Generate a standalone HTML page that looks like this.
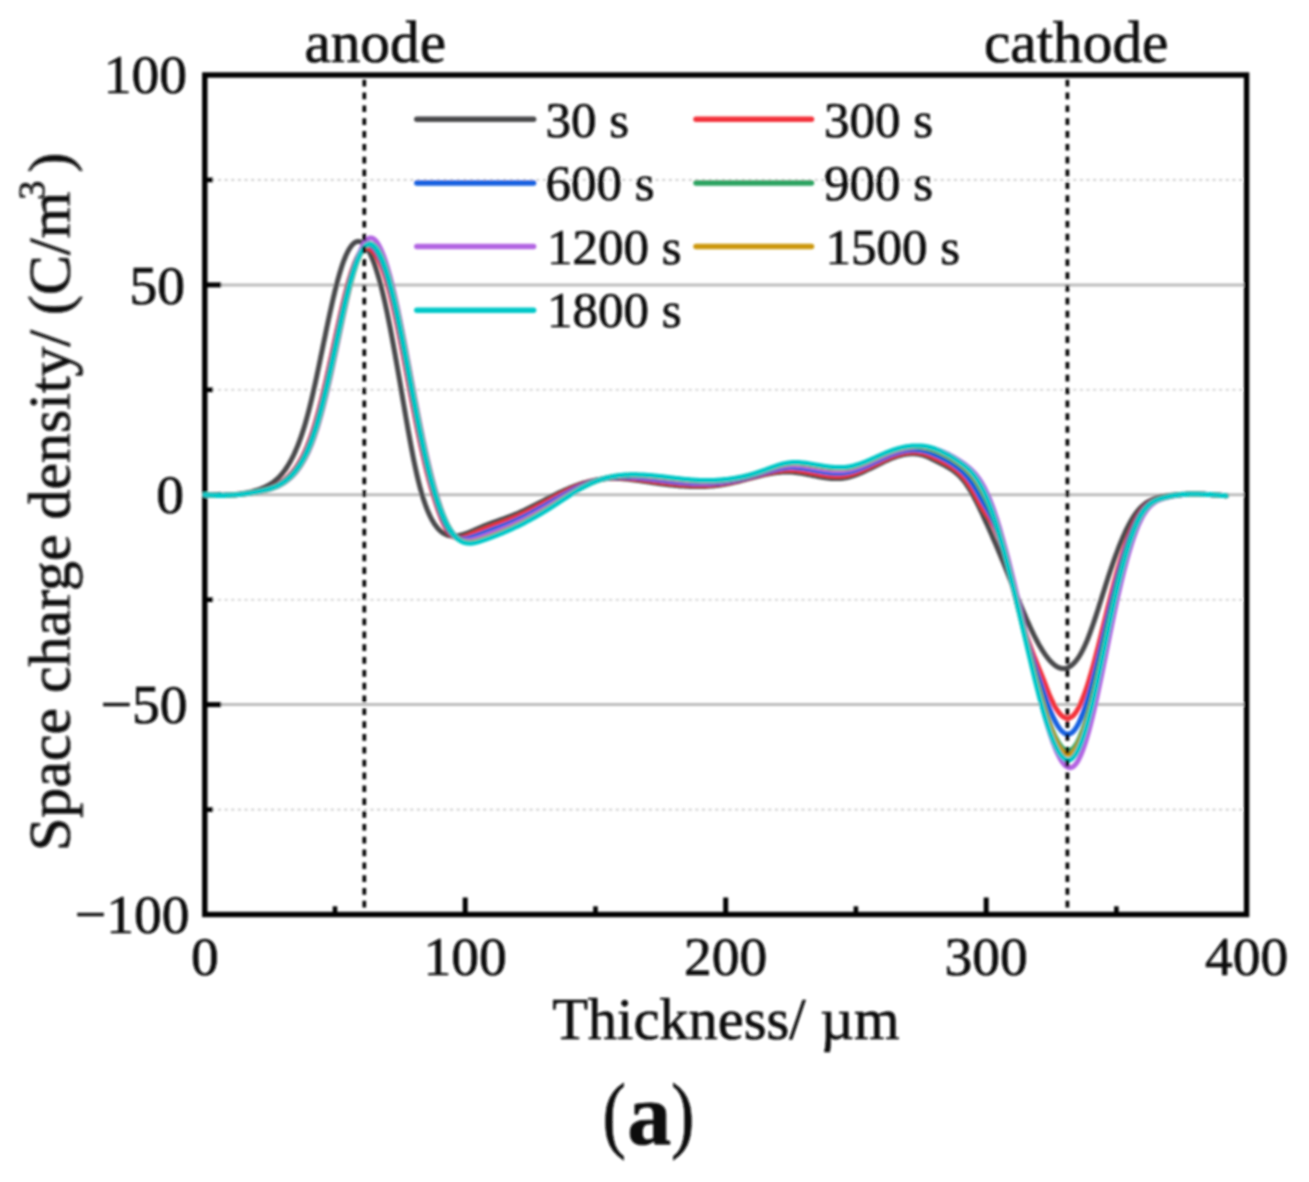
<!DOCTYPE html>
<html><head><meta charset="utf-8"><title>Space charge density</title>
<style>
html,body{margin:0;padding:0;background:#fff;}
body{width:1309px;height:1182px;overflow:hidden;}
svg{display:block;}
.t{font-family:"Liberation Serif",serif;fill:#0c0c0c;stroke:#0c0c0c;stroke-width:0.7px;}
</style></head><body>
<svg width="1309" height="1182" viewBox="0 0 1309 1182">
<rect width="1309" height="1182" fill="#fff"/>
<defs><filter id="soft" x="0" y="0" width="1309" height="1182" filterUnits="userSpaceOnUse"><feGaussianBlur stdDeviation="0.8"/></filter></defs>
<g filter="url(#soft)">
<line x1="204.8" y1="284.9" x2="1246.6" y2="284.9" stroke="#bcbcbc" stroke-width="3.0"/>
<line x1="204.8" y1="494.8" x2="1246.6" y2="494.8" stroke="#bcbcbc" stroke-width="3.0"/>
<line x1="204.8" y1="704.6" x2="1246.6" y2="704.6" stroke="#bcbcbc" stroke-width="3.0"/>
<line x1="204.8" y1="179.9" x2="1246.6" y2="179.9" stroke="#c6c6c6" stroke-width="1.6" stroke-dasharray="2.9 3.73"/>
<line x1="204.8" y1="389.8" x2="1246.6" y2="389.8" stroke="#c6c6c6" stroke-width="1.6" stroke-dasharray="2.9 3.73"/>
<line x1="204.8" y1="599.7" x2="1246.6" y2="599.7" stroke="#c6c6c6" stroke-width="1.6" stroke-dasharray="2.9 3.73"/>
<line x1="204.8" y1="809.6" x2="1246.6" y2="809.6" stroke="#c6c6c6" stroke-width="1.6" stroke-dasharray="2.9 3.73"/>
<rect x="204.8" y="75.0" width="1041.8" height="839.5" fill="none" stroke="#000" stroke-width="5.4"/>
<line x1="204.8" y1="284.9" x2="221.2" y2="284.9" stroke="#000" stroke-width="5.0"/>
<line x1="204.8" y1="494.8" x2="221.2" y2="494.8" stroke="#000" stroke-width="5.0"/>
<line x1="204.8" y1="704.6" x2="221.2" y2="704.6" stroke="#000" stroke-width="5.0"/>
<line x1="204.8" y1="179.9" x2="213.0" y2="179.9" stroke="#000" stroke-width="4.6"/>
<line x1="204.8" y1="389.8" x2="213.0" y2="389.8" stroke="#000" stroke-width="4.6"/>
<line x1="204.8" y1="599.7" x2="213.0" y2="599.7" stroke="#000" stroke-width="4.6"/>
<line x1="204.8" y1="809.6" x2="213.0" y2="809.6" stroke="#000" stroke-width="4.6"/>
<line x1="465.2" y1="914.5" x2="465.2" y2="897.5" stroke="#000" stroke-width="5.0"/>
<line x1="725.7" y1="914.5" x2="725.7" y2="897.5" stroke="#000" stroke-width="5.0"/>
<line x1="986.2" y1="914.5" x2="986.2" y2="897.5" stroke="#000" stroke-width="5.0"/>
<line x1="335.0" y1="914.5" x2="335.0" y2="906.3" stroke="#000" stroke-width="4.6"/>
<line x1="595.5" y1="914.5" x2="595.5" y2="906.3" stroke="#000" stroke-width="4.6"/>
<line x1="855.9" y1="914.5" x2="855.9" y2="906.3" stroke="#000" stroke-width="4.6"/>
<line x1="1116.4" y1="914.5" x2="1116.4" y2="906.3" stroke="#000" stroke-width="4.6"/>
<path d="M205.0,494.7 L206.0,494.7 L207.0,494.8 L208.0,494.8 L209.0,494.9 L210.0,494.9 L211.0,494.9 L212.0,495.0 L213.0,495.0 L214.0,495.0 L215.0,495.1 L216.0,495.1 L217.0,495.1 L218.0,495.1 L219.0,495.1 L220.0,495.1 L221.0,495.1 L222.0,495.1 L223.0,495.1 L224.0,495.1 L225.0,495.1 L226.0,495.1 L227.0,495.0 L228.0,495.0 L229.0,494.9 L230.0,494.9 L231.0,494.8 L232.0,494.8 L233.0,494.7 L234.0,494.6 L235.0,494.5 L236.0,494.4 L237.0,494.3 L238.0,494.2 L239.0,494.1 L240.0,494.0 L241.0,493.8 L242.0,493.7 L243.0,493.5 L244.0,493.3 L245.0,493.2 L246.0,493.0 L247.0,492.8 L248.0,492.6 L249.0,492.3 L250.0,492.1 L251.0,491.9 L252.0,491.6 L253.0,491.3 L254.0,491.0 L255.0,490.7 L256.0,490.4 L257.0,490.1 L258.0,489.8 L259.0,489.4 L260.0,489.1 L261.0,488.7 L262.0,488.3 L263.0,487.9 L264.0,487.4 L265.0,487.0 L266.0,486.5 L267.0,486.0 L268.0,485.5 L269.0,484.9 L270.0,484.3 L271.0,483.7 L272.0,483.1 L273.0,482.4 L274.0,481.6 L275.0,480.8 L276.0,480.0 L277.0,479.1 L278.0,478.2 L279.0,477.2 L280.0,476.1 L281.0,475.0 L282.0,473.8 L283.0,472.6 L284.0,471.3 L285.0,470.0 L286.0,468.5 L287.0,467.0 L288.0,465.4 L289.0,463.8 L290.0,462.0 L291.0,460.2 L292.0,458.3 L293.0,456.3 L294.0,454.3 L295.0,452.1 L296.0,449.8 L297.0,447.4 L298.0,445.0 L299.0,442.4 L300.0,439.7 L301.0,436.9 L302.0,433.9 L303.0,430.9 L304.0,427.7 L305.0,424.4 L306.0,421.0 L307.0,417.4 L308.0,413.7 L309.0,409.9 L310.0,405.9 L311.0,401.8 L312.0,397.6 L313.0,393.2 L314.0,388.8 L315.0,384.3 L316.0,379.7 L317.0,375.0 L318.0,370.3 L319.0,365.5 L320.0,360.7 L321.0,355.8 L322.0,351.0 L323.0,346.1 L324.0,341.2 L325.0,336.4 L326.0,331.6 L327.0,326.8 L328.0,322.0 L329.0,317.3 L330.0,312.7 L331.0,308.2 L332.0,303.7 L333.0,299.3 L334.0,295.1 L335.0,290.9 L336.0,286.9 L337.0,283.0 L338.0,279.2 L339.0,275.6 L340.0,272.2 L341.0,268.9 L342.0,265.8 L343.0,262.9 L344.0,260.2 L345.0,257.7 L346.0,255.3 L347.0,253.2 L348.0,251.2 L349.0,249.4 L350.0,247.8 L351.0,246.3 L352.0,245.1 L353.0,244.0 L354.0,243.1 L355.0,242.4 L356.0,241.9 L357.0,241.5 L358.0,241.4 L359.0,241.4 L360.0,241.6 L361.0,242.0 L362.0,242.5 L363.0,243.3 L364.0,244.2 L365.0,245.3 L366.0,246.6 L367.0,248.0 L368.0,249.6 L369.0,251.4 L370.0,253.4 L371.0,255.5 L372.0,257.8 L373.0,260.3 L374.0,262.9 L375.0,265.7 L376.0,268.7 L377.0,271.9 L378.0,275.2 L379.0,278.6 L380.0,282.3 L381.0,286.1 L382.0,290.0 L383.0,294.1 L384.0,298.4 L385.0,302.8 L386.0,307.4 L387.0,312.1 L388.0,317.0 L389.0,322.0 L390.0,327.1 L391.0,332.3 L392.0,337.6 L393.0,343.0 L394.0,348.5 L395.0,354.0 L396.0,359.7 L397.0,365.4 L398.0,371.1 L399.0,376.9 L400.0,382.7 L401.0,388.5 L402.0,394.4 L403.0,400.3 L404.0,406.1 L405.0,412.0 L406.0,417.8 L407.0,423.5 L408.0,429.2 L409.0,434.8 L410.0,440.3 L411.0,445.7 L412.0,451.0 L413.0,456.2 L414.0,461.2 L415.0,466.0 L416.0,470.6 L417.0,475.1 L418.0,479.4 L419.0,483.4 L420.0,487.3 L421.0,490.9 L422.0,494.4 L423.0,497.7 L424.0,500.8 L425.0,503.7 L426.0,506.5 L427.0,509.1 L428.0,511.5 L429.0,513.8 L430.0,516.0 L431.0,518.0 L432.0,519.9 L433.0,521.6 L434.0,523.3 L435.0,524.8 L436.0,526.1 L437.0,527.4 L438.0,528.6 L439.0,529.7 L440.0,530.6 L441.0,531.5 L442.0,532.3 L443.0,533.0 L444.0,533.6 L445.0,534.1 L446.0,534.6 L447.0,535.0 L448.0,535.3 L449.0,535.5 L450.0,535.7 L451.0,535.9 L452.0,535.9 L453.0,536.0 L454.0,536.0 L455.0,535.9 L456.0,535.9 L457.0,535.8 L458.0,535.6 L459.0,535.4 L460.0,535.2 L461.0,535.0 L462.0,534.7 L463.0,534.5 L464.0,534.2 L465.0,533.8 L466.0,533.5 L467.0,533.1 L468.0,532.8 L469.0,532.4 L470.0,532.0 L471.0,531.6 L472.0,531.1 L473.0,530.7 L474.0,530.3 L475.0,529.8 L476.0,529.4 L477.0,528.9 L478.0,528.5 L479.0,528.0 L480.0,527.6 L481.0,527.2 L482.0,526.7 L483.0,526.3 L484.0,525.9 L485.0,525.5 L486.0,525.1 L487.0,524.7 L488.0,524.3 L489.0,524.0 L490.0,523.6 L491.0,523.2 L492.0,522.8 L493.0,522.5 L494.0,522.1 L495.0,521.8 L496.0,521.4 L497.0,521.1 L498.0,520.7 L499.0,520.4 L500.0,520.0 L501.0,519.7 L502.0,519.3 L503.0,519.0 L504.0,518.6 L505.0,518.3 L506.0,517.9 L507.0,517.5 L508.0,517.2 L509.0,516.8 L510.0,516.4 L511.0,516.0 L512.0,515.6 L513.0,515.2 L514.0,514.8 L515.0,514.4 L516.0,514.0 L517.0,513.6 L518.0,513.2 L519.0,512.7 L520.0,512.3 L521.0,511.8 L522.0,511.4 L523.0,510.9 L524.0,510.4 L525.0,510.0 L526.0,509.5 L527.0,509.0 L528.0,508.5 L529.0,508.0 L530.0,507.5 L531.0,507.0 L532.0,506.5 L533.0,506.0 L534.0,505.5 L535.0,505.0 L536.0,504.5 L537.0,504.0 L538.0,503.5 L539.0,502.9 L540.0,502.4 L541.0,501.9 L542.0,501.4 L543.0,500.9 L544.0,500.4 L545.0,499.8 L546.0,499.3 L547.0,498.8 L548.0,498.3 L549.0,497.8 L550.0,497.3 L551.0,496.8 L552.0,496.2 L553.0,495.7 L554.0,495.2 L555.0,494.7 L556.0,494.3 L557.0,493.8 L558.0,493.3 L559.0,492.8 L560.0,492.3 L561.0,491.9 L562.0,491.4 L563.0,490.9 L564.0,490.5 L565.0,490.0 L566.0,489.6 L567.0,489.2 L568.0,488.7 L569.0,488.3 L570.0,487.9 L571.0,487.5 L572.0,487.1 L573.0,486.7 L574.0,486.3 L575.0,485.9 L576.0,485.6 L577.0,485.2 L578.0,484.9 L579.0,484.5 L580.0,484.2 L581.0,483.9 L582.0,483.5 L583.0,483.2 L584.0,482.9 L585.0,482.6 L586.0,482.4 L587.0,482.1 L588.0,481.8 L589.0,481.6 L590.0,481.3 L591.0,481.1 L592.0,480.8 L593.0,480.6 L594.0,480.4 L595.0,480.2 L596.0,480.0 L597.0,479.8 L598.0,479.7 L599.0,479.5 L600.0,479.4 L601.0,479.2 L602.0,479.1 L603.0,479.0 L604.0,478.9 L605.0,478.8 L606.0,478.7 L607.0,478.6 L608.0,478.6 L609.0,478.5 L610.0,478.5 L611.0,478.4 L612.0,478.4 L613.0,478.4 L614.0,478.4 L615.0,478.4 L616.0,478.4 L617.0,478.5 L618.0,478.5 L619.0,478.5 L620.0,478.6 L621.0,478.6 L622.0,478.7 L623.0,478.8 L624.0,478.8 L625.0,478.9 L626.0,479.0 L627.0,479.1 L628.0,479.2 L629.0,479.3 L630.0,479.4 L631.0,479.5 L632.0,479.7 L633.0,479.8 L634.0,479.9 L635.0,480.0 L636.0,480.2 L637.0,480.3 L638.0,480.4 L639.0,480.6 L640.0,480.7 L641.0,480.9 L642.0,481.0 L643.0,481.2 L644.0,481.3 L645.0,481.5 L646.0,481.6 L647.0,481.8 L648.0,481.9 L649.0,482.1 L650.0,482.2 L651.0,482.4 L652.0,482.5 L653.0,482.7 L654.0,482.8 L655.0,483.0 L656.0,483.1 L657.0,483.3 L658.0,483.4 L659.0,483.5 L660.0,483.7 L661.0,483.8 L662.0,483.9 L663.0,484.1 L664.0,484.2 L665.0,484.3 L666.0,484.4 L667.0,484.6 L668.0,484.7 L669.0,484.8 L670.0,484.9 L671.0,485.0 L672.0,485.1 L673.0,485.2 L674.0,485.3 L675.0,485.4 L676.0,485.5 L677.0,485.6 L678.0,485.7 L679.0,485.8 L680.0,485.9 L681.0,485.9 L682.0,486.0 L683.0,486.1 L684.0,486.1 L685.0,486.2 L686.0,486.2 L687.0,486.3 L688.0,486.3 L689.0,486.4 L690.0,486.4 L691.0,486.5 L692.0,486.5 L693.0,486.5 L694.0,486.5 L695.0,486.5 L696.0,486.6 L697.0,486.6 L698.0,486.6 L699.0,486.6 L700.0,486.5 L701.0,486.5 L702.0,486.5 L703.0,486.5 L704.0,486.4 L705.0,486.4 L706.0,486.4 L707.0,486.3 L708.0,486.3 L709.0,486.2 L710.0,486.1 L711.0,486.0 L712.0,486.0 L713.0,485.9 L714.0,485.8 L715.0,485.7 L716.0,485.6 L717.0,485.5 L718.0,485.3 L719.0,485.2 L720.0,485.1 L721.0,484.9 L722.0,484.8 L723.0,484.6 L724.0,484.5 L725.0,484.3 L726.0,484.1 L727.0,483.9 L728.0,483.7 L729.0,483.5 L730.0,483.3 L731.0,483.1 L732.0,482.9 L733.0,482.7 L734.0,482.4 L735.0,482.2 L736.0,481.9 L737.0,481.7 L738.0,481.5 L739.0,481.2 L740.0,481.0 L741.0,480.7 L742.0,480.4 L743.0,480.2 L744.0,479.9 L745.0,479.7 L746.0,479.4 L747.0,479.1 L748.0,478.9 L749.0,478.6 L750.0,478.3 L751.0,478.1 L752.0,477.8 L753.0,477.5 L754.0,477.3 L755.0,477.0 L756.0,476.8 L757.0,476.5 L758.0,476.3 L759.0,476.0 L760.0,475.8 L761.0,475.5 L762.0,475.3 L763.0,475.1 L764.0,474.9 L765.0,474.6 L766.0,474.4 L767.0,474.2 L768.0,474.0 L769.0,473.8 L770.0,473.6 L771.0,473.5 L772.0,473.3 L773.0,473.1 L774.0,473.0 L775.0,472.8 L776.0,472.7 L777.0,472.6 L778.0,472.5 L779.0,472.4 L780.0,472.3 L781.0,472.2 L782.0,472.1 L783.0,472.1 L784.0,472.0 L785.0,472.0 L786.0,472.0 L787.0,472.0 L788.0,472.0 L789.0,472.0 L790.0,472.0 L791.0,472.1 L792.0,472.1 L793.0,472.2 L794.0,472.3 L795.0,472.4 L796.0,472.5 L797.0,472.7 L798.0,472.8 L799.0,472.9 L800.0,473.1 L801.0,473.2 L802.0,473.4 L803.0,473.6 L804.0,473.8 L805.0,473.9 L806.0,474.1 L807.0,474.3 L808.0,474.5 L809.0,474.7 L810.0,474.9 L811.0,475.1 L812.0,475.3 L813.0,475.5 L814.0,475.7 L815.0,475.9 L816.0,476.1 L817.0,476.3 L818.0,476.5 L819.0,476.7 L820.0,476.9 L821.0,477.0 L822.0,477.2 L823.0,477.4 L824.0,477.5 L825.0,477.7 L826.0,477.8 L827.0,477.9 L828.0,478.1 L829.0,478.2 L830.0,478.3 L831.0,478.4 L832.0,478.4 L833.0,478.5 L834.0,478.5 L835.0,478.6 L836.0,478.6 L837.0,478.6 L838.0,478.5 L839.0,478.5 L840.0,478.5 L841.0,478.4 L842.0,478.3 L843.0,478.2 L844.0,478.0 L845.0,477.9 L846.0,477.7 L847.0,477.5 L848.0,477.3 L849.0,477.0 L850.0,476.8 L851.0,476.5 L852.0,476.2 L853.0,475.9 L854.0,475.6 L855.0,475.2 L856.0,474.9 L857.0,474.5 L858.0,474.1 L859.0,473.7 L860.0,473.3 L861.0,472.9 L862.0,472.4 L863.0,472.0 L864.0,471.5 L865.0,471.1 L866.0,470.6 L867.0,470.1 L868.0,469.6 L869.0,469.1 L870.0,468.7 L871.0,468.2 L872.0,467.7 L873.0,467.2 L874.0,466.7 L875.0,466.2 L876.0,465.7 L877.0,465.2 L878.0,464.7 L879.0,464.2 L880.0,463.7 L881.0,463.2 L882.0,462.7 L883.0,462.2 L884.0,461.7 L885.0,461.3 L886.0,460.8 L887.0,460.4 L888.0,459.9 L889.0,459.5 L890.0,459.0 L891.0,458.6 L892.0,458.2 L893.0,457.8 L894.0,457.5 L895.0,457.1 L896.0,456.8 L897.0,456.4 L898.0,456.1 L899.0,455.8 L900.0,455.5 L901.0,455.3 L902.0,455.0 L903.0,454.8 L904.0,454.6 L905.0,454.4 L906.0,454.3 L907.0,454.1 L908.0,454.0 L909.0,453.9 L910.0,453.8 L911.0,453.8 L912.0,453.7 L913.0,453.7 L914.0,453.8 L915.0,453.8 L916.0,453.9 L917.0,454.0 L918.0,454.1 L919.0,454.3 L920.0,454.5 L921.0,454.7 L922.0,454.9 L923.0,455.2 L924.0,455.5 L925.0,455.9 L926.0,456.2 L927.0,456.6 L928.0,457.0 L929.0,457.5 L930.0,457.9 L931.0,458.4 L932.0,458.9 L933.0,459.4 L934.0,459.9 L935.0,460.4 L936.0,460.9 L937.0,461.4 L938.0,462.0 L939.0,462.5 L940.0,463.0 L941.0,463.5 L942.0,464.1 L943.0,464.6 L944.0,465.1 L945.0,465.6 L946.0,466.2 L947.0,466.7 L948.0,467.3 L949.0,467.9 L950.0,468.5 L951.0,469.1 L952.0,469.8 L953.0,470.5 L954.0,471.2 L955.0,472.0 L956.0,472.8 L957.0,473.7 L958.0,474.6 L959.0,475.5 L960.0,476.5 L961.0,477.6 L962.0,478.7 L963.0,479.9 L964.0,481.1 L965.0,482.4 L966.0,483.8 L967.0,485.3 L968.0,486.8 L969.0,488.4 L970.0,490.0 L971.0,491.7 L972.0,493.5 L973.0,495.3 L974.0,497.1 L975.0,499.0 L976.0,501.0 L977.0,503.0 L978.0,505.0 L979.0,507.0 L980.0,509.1 L981.0,511.2 L982.0,513.3 L983.0,515.5 L984.0,517.7 L985.0,519.9 L986.0,522.1 L987.0,524.3 L988.0,526.5 L989.0,528.8 L990.0,531.0 L991.0,533.3 L992.0,535.6 L993.0,537.9 L994.0,540.2 L995.0,542.5 L996.0,544.9 L997.0,547.2 L998.0,549.6 L999.0,552.0 L1000.0,554.4 L1001.0,556.8 L1002.0,559.2 L1003.0,561.6 L1004.0,564.1 L1005.0,566.5 L1006.0,569.0 L1007.0,571.5 L1008.0,574.0 L1009.0,576.5 L1010.0,579.0 L1011.0,581.5 L1012.0,584.0 L1013.0,586.5 L1014.0,589.0 L1015.0,591.5 L1016.0,593.9 L1017.0,596.4 L1018.0,598.9 L1019.0,601.3 L1020.0,603.7 L1021.0,606.1 L1022.0,608.5 L1023.0,610.9 L1024.0,613.3 L1025.0,615.6 L1026.0,617.9 L1027.0,620.2 L1028.0,622.4 L1029.0,624.6 L1030.0,626.8 L1031.0,629.0 L1032.0,631.1 L1033.0,633.1 L1034.0,635.2 L1035.0,637.2 L1036.0,639.1 L1037.0,641.0 L1038.0,642.9 L1039.0,644.7 L1040.0,646.4 L1041.0,648.1 L1042.0,649.8 L1043.0,651.3 L1044.0,652.9 L1045.0,654.4 L1046.0,655.8 L1047.0,657.1 L1048.0,658.4 L1049.0,659.6 L1050.0,660.7 L1051.0,661.8 L1052.0,662.8 L1053.0,663.7 L1054.0,664.6 L1055.0,665.4 L1056.0,666.1 L1057.0,666.7 L1058.0,667.2 L1059.0,667.7 L1060.0,668.0 L1061.0,668.3 L1062.0,668.5 L1063.0,668.5 L1064.0,668.5 L1065.0,668.4 L1066.0,668.2 L1067.0,667.9 L1068.0,667.5 L1069.0,667.0 L1070.0,666.5 L1071.0,665.8 L1072.0,665.0 L1073.0,664.1 L1074.0,663.1 L1075.0,662.0 L1076.0,660.8 L1077.0,659.5 L1078.0,658.1 L1079.0,656.6 L1080.0,655.0 L1081.0,653.3 L1082.0,651.4 L1083.0,649.5 L1084.0,647.4 L1085.0,645.3 L1086.0,643.0 L1087.0,640.7 L1088.0,638.2 L1089.0,635.6 L1090.0,633.0 L1091.0,630.2 L1092.0,627.4 L1093.0,624.5 L1094.0,621.6 L1095.0,618.6 L1096.0,615.6 L1097.0,612.5 L1098.0,609.4 L1099.0,606.2 L1100.0,603.1 L1101.0,599.9 L1102.0,596.7 L1103.0,593.5 L1104.0,590.4 L1105.0,587.2 L1106.0,584.0 L1107.0,580.9 L1108.0,577.8 L1109.0,574.8 L1110.0,571.8 L1111.0,568.8 L1112.0,565.9 L1113.0,563.0 L1114.0,560.2 L1115.0,557.4 L1116.0,554.7 L1117.0,552.0 L1118.0,549.3 L1119.0,546.8 L1120.0,544.2 L1121.0,541.8 L1122.0,539.4 L1123.0,537.0 L1124.0,534.8 L1125.0,532.6 L1126.0,530.4 L1127.0,528.3 L1128.0,526.3 L1129.0,524.4 L1130.0,522.6 L1131.0,520.8 L1132.0,519.1 L1133.0,517.4 L1134.0,515.9 L1135.0,514.4 L1136.0,513.1 L1137.0,511.8 L1138.0,510.5 L1139.0,509.4 L1140.0,508.3 L1141.0,507.3 L1142.0,506.3 L1143.0,505.4 L1144.0,504.6 L1145.0,503.8 L1146.0,503.1 L1147.0,502.4 L1148.0,501.8 L1149.0,501.2 L1150.0,500.7 L1151.0,500.2 L1152.0,499.7 L1153.0,499.3 L1154.0,498.9 L1155.0,498.6 L1156.0,498.2 L1157.0,497.9 L1158.0,497.7 L1159.0,497.4 L1160.0,497.2 L1161.0,497.0 L1162.0,496.8 L1163.0,496.6 L1164.0,496.4 L1165.0,496.2 L1166.0,496.0 L1167.0,495.9 L1168.0,495.7 L1169.0,495.6 L1170.0,495.4 L1171.0,495.3 L1172.0,495.2 L1173.0,495.0 L1174.0,494.9 L1175.0,494.8 L1176.0,494.7 L1177.0,494.6 L1178.0,494.6 L1179.0,494.5 L1180.0,494.4 L1181.0,494.4 L1182.0,494.3 L1183.0,494.2 L1184.0,494.2 L1185.0,494.2 L1186.0,494.1 L1187.0,494.1 L1188.0,494.1 L1189.0,494.1 L1190.0,494.0 L1191.0,494.0 L1192.0,494.0 L1193.0,494.0 L1194.0,494.0 L1195.0,494.0 L1196.0,494.1 L1197.0,494.1 L1198.0,494.1 L1199.0,494.1 L1200.0,494.2 L1201.0,494.2 L1202.0,494.2 L1203.0,494.3 L1204.0,494.3 L1205.0,494.4 L1206.0,494.4 L1207.0,494.5 L1208.0,494.5 L1209.0,494.6 L1210.0,494.6 L1211.0,494.7 L1212.0,494.8 L1213.0,494.8 L1214.0,494.9 L1215.0,495.0 L1216.0,495.0 L1217.0,495.1 L1218.0,495.2 L1219.0,495.2 L1220.0,495.3 L1221.0,495.4 L1222.0,495.5 L1223.0,495.5 L1224.0,495.6 L1225.0,495.7 L1226.0,495.8 L1226.3,495.8" fill="none" stroke="#48484b" stroke-width="5.0" stroke-linejoin="round" stroke-linecap="round"/>
<path d="M205.0,494.9 L206.0,495.0 L207.0,495.1 L208.0,495.1 L209.0,495.2 L210.0,495.2 L211.0,495.3 L212.0,495.3 L213.0,495.3 L214.0,495.4 L215.0,495.4 L216.0,495.4 L217.0,495.4 L218.0,495.4 L219.0,495.4 L220.0,495.4 L221.0,495.4 L222.0,495.4 L223.0,495.4 L224.0,495.3 L225.0,495.3 L226.0,495.3 L227.0,495.2 L228.0,495.2 L229.0,495.1 L230.0,495.0 L231.0,495.0 L232.0,494.9 L233.0,494.8 L234.0,494.7 L235.0,494.6 L236.0,494.5 L237.0,494.4 L238.0,494.3 L239.0,494.2 L240.0,494.1 L241.0,494.0 L242.0,493.9 L243.0,493.7 L244.0,493.6 L245.0,493.5 L246.0,493.3 L247.0,493.2 L248.0,493.0 L249.0,492.8 L250.0,492.7 L251.0,492.5 L252.0,492.3 L253.0,492.1 L254.0,492.0 L255.0,491.8 L256.0,491.6 L257.0,491.4 L258.0,491.2 L259.0,490.9 L260.0,490.7 L261.0,490.5 L262.0,490.3 L263.0,490.0 L264.0,489.8 L265.0,489.5 L266.0,489.2 L267.0,488.9 L268.0,488.6 L269.0,488.3 L270.0,488.0 L271.0,487.6 L272.0,487.2 L273.0,486.8 L274.0,486.3 L275.0,485.9 L276.0,485.4 L277.0,484.9 L278.0,484.3 L279.0,483.7 L280.0,483.1 L281.0,482.5 L282.0,481.8 L283.0,481.0 L284.0,480.3 L285.0,479.5 L286.0,478.6 L287.0,477.7 L288.0,476.8 L289.0,475.8 L290.0,474.8 L291.0,473.7 L292.0,472.6 L293.0,471.4 L294.0,470.1 L295.0,468.8 L296.0,467.4 L297.0,466.0 L298.0,464.4 L299.0,462.8 L300.0,461.1 L301.0,459.3 L302.0,457.5 L303.0,455.5 L304.0,453.4 L305.0,451.3 L306.0,449.0 L307.0,446.7 L308.0,444.2 L309.0,441.6 L310.0,439.0 L311.0,436.1 L312.0,433.2 L313.0,430.2 L314.0,427.0 L315.0,423.7 L316.0,420.3 L317.0,416.7 L318.0,413.1 L319.0,409.3 L320.0,405.5 L321.0,401.5 L322.0,397.5 L323.0,393.3 L324.0,389.1 L325.0,384.8 L326.0,380.5 L327.0,376.1 L328.0,371.6 L329.0,367.0 L330.0,362.4 L331.0,357.8 L332.0,353.2 L333.0,348.5 L334.0,343.8 L335.0,339.2 L336.0,334.5 L337.0,329.9 L338.0,325.3 L339.0,320.7 L340.0,316.2 L341.0,311.8 L342.0,307.4 L343.0,303.2 L344.0,299.0 L345.0,294.9 L346.0,291.0 L347.0,287.2 L348.0,283.5 L349.0,280.0 L350.0,276.7 L351.0,273.4 L352.0,270.4 L353.0,267.5 L354.0,264.8 L355.0,262.3 L356.0,260.0 L357.0,257.8 L358.0,255.9 L359.0,254.1 L360.0,252.6 L361.0,251.2 L362.0,250.1 L363.0,249.2 L364.0,248.5 L365.0,248.0 L366.0,247.7 L367.0,247.6 L368.0,247.7 L369.0,248.0 L370.0,248.4 L371.0,249.1 L372.0,249.9 L373.0,250.9 L374.0,252.1 L375.0,253.4 L376.0,255.0 L377.0,256.7 L378.0,258.5 L379.0,260.6 L380.0,262.8 L381.0,265.1 L382.0,267.7 L383.0,270.4 L384.0,273.2 L385.0,276.2 L386.0,279.4 L387.0,282.7 L388.0,286.2 L389.0,289.9 L390.0,293.7 L391.0,297.7 L392.0,301.8 L393.0,306.0 L394.0,310.4 L395.0,314.9 L396.0,319.5 L397.0,324.3 L398.0,329.1 L399.0,334.0 L400.0,339.0 L401.0,344.1 L402.0,349.2 L403.0,354.4 L404.0,359.6 L405.0,364.9 L406.0,370.1 L407.0,375.4 L408.0,380.7 L409.0,386.0 L410.0,391.3 L411.0,396.6 L412.0,401.8 L413.0,407.0 L414.0,412.1 L415.0,417.2 L416.0,422.3 L417.0,427.3 L418.0,432.2 L419.0,437.0 L420.0,441.8 L421.0,446.4 L422.0,451.0 L423.0,455.5 L424.0,459.8 L425.0,464.1 L426.0,468.2 L427.0,472.3 L428.0,476.2 L429.0,480.0 L430.0,483.7 L431.0,487.3 L432.0,490.7 L433.0,494.1 L434.0,497.4 L435.0,500.6 L436.0,503.7 L437.0,506.8 L438.0,509.7 L439.0,512.5 L440.0,515.2 L441.0,517.8 L442.0,520.2 L443.0,522.5 L444.0,524.6 L445.0,526.5 L446.0,528.3 L447.0,529.9 L448.0,531.4 L449.0,532.7 L450.0,533.8 L451.0,534.8 L452.0,535.7 L453.0,536.4 L454.0,537.0 L455.0,537.4 L456.0,537.8 L457.0,538.0 L458.0,538.1 L459.0,538.2 L460.0,538.1 L461.0,538.0 L462.0,537.8 L463.0,537.6 L464.0,537.3 L465.0,537.0 L466.0,536.6 L467.0,536.2 L468.0,535.8 L469.0,535.4 L470.0,535.0 L471.0,534.5 L472.0,534.1 L473.0,533.7 L474.0,533.3 L475.0,532.9 L476.0,532.5 L477.0,532.1 L478.0,531.7 L479.0,531.3 L480.0,530.9 L481.0,530.5 L482.0,530.1 L483.0,529.7 L484.0,529.3 L485.0,528.9 L486.0,528.5 L487.0,528.1 L488.0,527.7 L489.0,527.4 L490.0,527.0 L491.0,526.6 L492.0,526.3 L493.0,525.9 L494.0,525.5 L495.0,525.2 L496.0,524.8 L497.0,524.4 L498.0,524.1 L499.0,523.7 L500.0,523.3 L501.0,523.0 L502.0,522.6 L503.0,522.2 L504.0,521.9 L505.0,521.5 L506.0,521.1 L507.0,520.7 L508.0,520.4 L509.0,520.0 L510.0,519.6 L511.0,519.2 L512.0,518.8 L513.0,518.4 L514.0,517.9 L515.0,517.5 L516.0,517.1 L517.0,516.7 L518.0,516.2 L519.0,515.8 L520.0,515.3 L521.0,514.8 L522.0,514.4 L523.0,513.9 L524.0,513.4 L525.0,512.9 L526.0,512.5 L527.0,512.0 L528.0,511.5 L529.0,511.0 L530.0,510.5 L531.0,509.9 L532.0,509.4 L533.0,508.9 L534.0,508.4 L535.0,507.9 L536.0,507.4 L537.0,506.8 L538.0,506.3 L539.0,505.8 L540.0,505.2 L541.0,504.7 L542.0,504.2 L543.0,503.6 L544.0,503.1 L545.0,502.5 L546.0,502.0 L547.0,501.5 L548.0,500.9 L549.0,500.4 L550.0,499.8 L551.0,499.3 L552.0,498.8 L553.0,498.2 L554.0,497.7 L555.0,497.2 L556.0,496.6 L557.0,496.1 L558.0,495.6 L559.0,495.0 L560.0,494.5 L561.0,494.0 L562.0,493.5 L563.0,493.0 L564.0,492.5 L565.0,492.0 L566.0,491.5 L567.0,491.0 L568.0,490.5 L569.0,490.1 L570.0,489.6 L571.0,489.1 L572.0,488.7 L573.0,488.2 L574.0,487.8 L575.0,487.4 L576.0,486.9 L577.0,486.5 L578.0,486.1 L579.0,485.7 L580.0,485.3 L581.0,484.9 L582.0,484.6 L583.0,484.2 L584.0,483.8 L585.0,483.5 L586.0,483.1 L587.0,482.8 L588.0,482.5 L589.0,482.2 L590.0,481.9 L591.0,481.6 L592.0,481.3 L593.0,481.0 L594.0,480.8 L595.0,480.5 L596.0,480.3 L597.0,480.1 L598.0,479.9 L599.0,479.7 L600.0,479.5 L601.0,479.3 L602.0,479.1 L603.0,479.0 L604.0,478.8 L605.0,478.7 L606.0,478.5 L607.0,478.4 L608.0,478.3 L609.0,478.2 L610.0,478.1 L611.0,478.1 L612.0,478.0 L613.0,478.0 L614.0,477.9 L615.0,477.9 L616.0,477.9 L617.0,477.8 L618.0,477.8 L619.0,477.8 L620.0,477.8 L621.0,477.9 L622.0,477.9 L623.0,477.9 L624.0,478.0 L625.0,478.0 L626.0,478.1 L627.0,478.1 L628.0,478.2 L629.0,478.3 L630.0,478.3 L631.0,478.4 L632.0,478.5 L633.0,478.6 L634.0,478.7 L635.0,478.8 L636.0,478.9 L637.0,479.0 L638.0,479.1 L639.0,479.2 L640.0,479.3 L641.0,479.5 L642.0,479.6 L643.0,479.7 L644.0,479.8 L645.0,480.0 L646.0,480.1 L647.0,480.2 L648.0,480.4 L649.0,480.5 L650.0,480.6 L651.0,480.8 L652.0,480.9 L653.0,481.0 L654.0,481.2 L655.0,481.3 L656.0,481.4 L657.0,481.6 L658.0,481.7 L659.0,481.8 L660.0,482.0 L661.0,482.1 L662.0,482.2 L663.0,482.3 L664.0,482.5 L665.0,482.6 L666.0,482.7 L667.0,482.8 L668.0,482.9 L669.0,483.1 L670.0,483.2 L671.0,483.3 L672.0,483.4 L673.0,483.5 L674.0,483.6 L675.0,483.7 L676.0,483.8 L677.0,483.9 L678.0,484.0 L679.0,484.1 L680.0,484.2 L681.0,484.3 L682.0,484.3 L683.0,484.4 L684.0,484.5 L685.0,484.6 L686.0,484.6 L687.0,484.7 L688.0,484.7 L689.0,484.8 L690.0,484.8 L691.0,484.9 L692.0,484.9 L693.0,485.0 L694.0,485.0 L695.0,485.0 L696.0,485.0 L697.0,485.1 L698.0,485.1 L699.0,485.1 L700.0,485.1 L701.0,485.1 L702.0,485.1 L703.0,485.0 L704.0,485.0 L705.0,485.0 L706.0,485.0 L707.0,484.9 L708.0,484.9 L709.0,484.8 L710.0,484.8 L711.0,484.7 L712.0,484.6 L713.0,484.6 L714.0,484.5 L715.0,484.4 L716.0,484.3 L717.0,484.2 L718.0,484.1 L719.0,484.0 L720.0,483.9 L721.0,483.7 L722.0,483.6 L723.0,483.5 L724.0,483.3 L725.0,483.2 L726.0,483.0 L727.0,482.8 L728.0,482.7 L729.0,482.5 L730.0,482.3 L731.0,482.1 L732.0,481.9 L733.0,481.7 L734.0,481.5 L735.0,481.2 L736.0,481.0 L737.0,480.8 L738.0,480.6 L739.0,480.3 L740.0,480.1 L741.0,479.8 L742.0,479.6 L743.0,479.3 L744.0,479.1 L745.0,478.8 L746.0,478.6 L747.0,478.3 L748.0,478.0 L749.0,477.8 L750.0,477.5 L751.0,477.2 L752.0,477.0 L753.0,476.7 L754.0,476.4 L755.0,476.2 L756.0,475.9 L757.0,475.6 L758.0,475.4 L759.0,475.1 L760.0,474.8 L761.0,474.6 L762.0,474.3 L763.0,474.0 L764.0,473.8 L765.0,473.5 L766.0,473.3 L767.0,473.0 L768.0,472.8 L769.0,472.6 L770.0,472.3 L771.0,472.1 L772.0,471.9 L773.0,471.7 L774.0,471.5 L775.0,471.3 L776.0,471.1 L777.0,470.9 L778.0,470.8 L779.0,470.6 L780.0,470.5 L781.0,470.4 L782.0,470.2 L783.0,470.1 L784.0,470.0 L785.0,470.0 L786.0,469.9 L787.0,469.9 L788.0,469.8 L789.0,469.8 L790.0,469.8 L791.0,469.8 L792.0,469.9 L793.0,469.9 L794.0,470.0 L795.0,470.0 L796.0,470.1 L797.0,470.2 L798.0,470.3 L799.0,470.5 L800.0,470.6 L801.0,470.7 L802.0,470.9 L803.0,471.0 L804.0,471.2 L805.0,471.4 L806.0,471.5 L807.0,471.7 L808.0,471.9 L809.0,472.1 L810.0,472.3 L811.0,472.5 L812.0,472.7 L813.0,472.9 L814.0,473.1 L815.0,473.2 L816.0,473.4 L817.0,473.6 L818.0,473.8 L819.0,474.0 L820.0,474.2 L821.0,474.3 L822.0,474.5 L823.0,474.7 L824.0,474.8 L825.0,475.0 L826.0,475.1 L827.0,475.2 L828.0,475.4 L829.0,475.5 L830.0,475.6 L831.0,475.7 L832.0,475.7 L833.0,475.8 L834.0,475.9 L835.0,475.9 L836.0,475.9 L837.0,475.9 L838.0,475.9 L839.0,475.9 L840.0,475.9 L841.0,475.8 L842.0,475.7 L843.0,475.6 L844.0,475.5 L845.0,475.4 L846.0,475.2 L847.0,475.0 L848.0,474.8 L849.0,474.6 L850.0,474.4 L851.0,474.1 L852.0,473.8 L853.0,473.5 L854.0,473.2 L855.0,472.9 L856.0,472.5 L857.0,472.2 L858.0,471.8 L859.0,471.4 L860.0,471.0 L861.0,470.6 L862.0,470.2 L863.0,469.8 L864.0,469.3 L865.0,468.9 L866.0,468.4 L867.0,468.0 L868.0,467.5 L869.0,467.0 L870.0,466.6 L871.0,466.1 L872.0,465.6 L873.0,465.1 L874.0,464.6 L875.0,464.1 L876.0,463.7 L877.0,463.2 L878.0,462.7 L879.0,462.2 L880.0,461.7 L881.0,461.2 L882.0,460.8 L883.0,460.3 L884.0,459.8 L885.0,459.4 L886.0,458.9 L887.0,458.5 L888.0,458.0 L889.0,457.6 L890.0,457.2 L891.0,456.8 L892.0,456.4 L893.0,456.0 L894.0,455.7 L895.0,455.3 L896.0,455.0 L897.0,454.6 L898.0,454.3 L899.0,454.0 L900.0,453.8 L901.0,453.5 L902.0,453.3 L903.0,453.0 L904.0,452.8 L905.0,452.6 L906.0,452.5 L907.0,452.3 L908.0,452.2 L909.0,452.1 L910.0,452.0 L911.0,451.9 L912.0,451.9 L913.0,451.9 L914.0,451.9 L915.0,451.9 L916.0,452.0 L917.0,452.0 L918.0,452.1 L919.0,452.3 L920.0,452.4 L921.0,452.6 L922.0,452.8 L923.0,453.1 L924.0,453.3 L925.0,453.6 L926.0,453.9 L927.0,454.3 L928.0,454.6 L929.0,455.0 L930.0,455.4 L931.0,455.8 L932.0,456.3 L933.0,456.7 L934.0,457.2 L935.0,457.7 L936.0,458.2 L937.0,458.6 L938.0,459.1 L939.0,459.6 L940.0,460.1 L941.0,460.6 L942.0,461.1 L943.0,461.7 L944.0,462.2 L945.0,462.7 L946.0,463.2 L947.0,463.8 L948.0,464.3 L949.0,464.9 L950.0,465.5 L951.0,466.2 L952.0,466.8 L953.0,467.5 L954.0,468.2 L955.0,468.9 L956.0,469.7 L957.0,470.5 L958.0,471.4 L959.0,472.2 L960.0,473.2 L961.0,474.1 L962.0,475.2 L963.0,476.3 L964.0,477.4 L965.0,478.6 L966.0,479.8 L967.0,481.2 L968.0,482.5 L969.0,484.0 L970.0,485.5 L971.0,487.1 L972.0,488.7 L973.0,490.4 L974.0,492.1 L975.0,493.9 L976.0,495.8 L977.0,497.7 L978.0,499.6 L979.0,501.5 L980.0,503.4 L981.0,505.2 L982.0,506.9 L983.0,508.6 L984.0,510.2 L985.0,511.7 L986.0,513.3 L987.0,514.8 L988.0,516.3 L989.0,517.8 L990.0,519.4 L991.0,521.0 L992.0,522.7 L993.0,524.5 L994.0,526.4 L995.0,528.4 L996.0,530.6 L997.0,532.9 L998.0,535.3 L999.0,537.9 L1000.0,540.6 L1001.0,543.5 L1002.0,546.6 L1003.0,549.8 L1004.0,553.2 L1005.0,556.7 L1006.0,560.4 L1007.0,564.2 L1008.0,568.1 L1009.0,572.1 L1010.0,576.1 L1011.0,580.1 L1012.0,584.1 L1013.0,588.1 L1014.0,592.0 L1015.0,595.9 L1016.0,599.7 L1017.0,603.5 L1018.0,607.2 L1019.0,610.8 L1020.0,614.4 L1021.0,617.9 L1022.0,621.3 L1023.0,624.6 L1024.0,627.8 L1025.0,631.0 L1026.0,634.1 L1027.0,637.1 L1028.0,640.1 L1029.0,642.9 L1030.0,645.7 L1031.0,648.5 L1032.0,651.1 L1033.0,653.7 L1034.0,656.3 L1035.0,658.8 L1036.0,661.3 L1037.0,663.7 L1038.0,666.2 L1039.0,668.6 L1040.0,671.0 L1041.0,673.4 L1042.0,675.9 L1043.0,678.4 L1044.0,680.9 L1045.0,683.5 L1046.0,686.2 L1047.0,688.8 L1048.0,691.4 L1049.0,693.9 L1050.0,696.2 L1051.0,698.5 L1052.0,700.7 L1053.0,702.7 L1054.0,704.7 L1055.0,706.5 L1056.0,708.3 L1057.0,709.9 L1058.0,711.3 L1059.0,712.7 L1060.0,713.9 L1061.0,715.0 L1062.0,715.9 L1063.0,716.7 L1064.0,717.3 L1065.0,717.8 L1066.0,718.2 L1067.0,718.3 L1068.0,718.3 L1069.0,718.2 L1070.0,717.8 L1071.0,717.3 L1072.0,716.6 L1073.0,715.8 L1074.0,714.7 L1075.0,713.5 L1076.0,712.1 L1077.0,710.5 L1078.0,708.8 L1079.0,706.9 L1080.0,704.8 L1081.0,702.6 L1082.0,700.2 L1083.0,697.7 L1084.0,695.1 L1085.0,692.4 L1086.0,689.5 L1087.0,686.5 L1088.0,683.4 L1089.0,680.2 L1090.0,676.8 L1091.0,673.4 L1092.0,669.9 L1093.0,666.3 L1094.0,662.6 L1095.0,658.9 L1096.0,655.1 L1097.0,651.2 L1098.0,647.3 L1099.0,643.3 L1100.0,639.3 L1101.0,635.3 L1102.0,631.2 L1103.0,627.2 L1104.0,623.1 L1105.0,619.0 L1106.0,615.0 L1107.0,610.9 L1108.0,606.9 L1109.0,602.9 L1110.0,598.9 L1111.0,595.0 L1112.0,591.1 L1113.0,587.3 L1114.0,583.5 L1115.0,579.8 L1116.0,576.1 L1117.0,572.5 L1118.0,569.0 L1119.0,565.6 L1120.0,562.2 L1121.0,558.9 L1122.0,555.7 L1123.0,552.6 L1124.0,549.5 L1125.0,546.5 L1126.0,543.6 L1127.0,540.8 L1128.0,538.1 L1129.0,535.5 L1130.0,532.9 L1131.0,530.5 L1132.0,528.1 L1133.0,525.9 L1134.0,523.7 L1135.0,521.6 L1136.0,519.7 L1137.0,517.8 L1138.0,516.1 L1139.0,514.4 L1140.0,512.9 L1141.0,511.4 L1142.0,510.1 L1143.0,508.8 L1144.0,507.7 L1145.0,506.6 L1146.0,505.6 L1147.0,504.7 L1148.0,503.9 L1149.0,503.1 L1150.0,502.4 L1151.0,501.8 L1152.0,501.2 L1153.0,500.7 L1154.0,500.2 L1155.0,499.8 L1156.0,499.4 L1157.0,499.0 L1158.0,498.7 L1159.0,498.4 L1160.0,498.1 L1161.0,497.8 L1162.0,497.6 L1163.0,497.4 L1164.0,497.1 L1165.0,496.9 L1166.0,496.7 L1167.0,496.5 L1168.0,496.3 L1169.0,496.2 L1170.0,496.0 L1171.0,495.8 L1172.0,495.7 L1173.0,495.5 L1174.0,495.4 L1175.0,495.3 L1176.0,495.2 L1177.0,495.0 L1178.0,494.9 L1179.0,494.8 L1180.0,494.8 L1181.0,494.7 L1182.0,494.6 L1183.0,494.5 L1184.0,494.5 L1185.0,494.4 L1186.0,494.4 L1187.0,494.3 L1188.0,494.3 L1189.0,494.3 L1190.0,494.2 L1191.0,494.2 L1192.0,494.2 L1193.0,494.2 L1194.0,494.2 L1195.0,494.2 L1196.0,494.2 L1197.0,494.2 L1198.0,494.2 L1199.0,494.2 L1200.0,494.2 L1201.0,494.3 L1202.0,494.3 L1203.0,494.3 L1204.0,494.4 L1205.0,494.4 L1206.0,494.4 L1207.0,494.5 L1208.0,494.5 L1209.0,494.6 L1210.0,494.6 L1211.0,494.7 L1212.0,494.8 L1213.0,494.8 L1214.0,494.9 L1215.0,494.9 L1216.0,495.0 L1217.0,495.1 L1218.0,495.1 L1219.0,495.2 L1220.0,495.3 L1221.0,495.3 L1222.0,495.4 L1223.0,495.5 L1224.0,495.5 L1225.0,495.6 L1226.0,495.6 L1226.3,495.6" fill="none" stroke="#f3333a" stroke-width="5.0" stroke-linejoin="round" stroke-linecap="round"/>
<path d="M205.0,494.8 L206.0,494.9 L207.0,495.0 L208.0,495.0 L209.0,495.1 L210.0,495.2 L211.0,495.2 L212.0,495.3 L213.0,495.3 L214.0,495.3 L215.0,495.4 L216.0,495.4 L217.0,495.4 L218.0,495.4 L219.0,495.4 L220.0,495.4 L221.0,495.4 L222.0,495.4 L223.0,495.4 L224.0,495.4 L225.0,495.3 L226.0,495.3 L227.0,495.3 L228.0,495.2 L229.0,495.2 L230.0,495.1 L231.0,495.0 L232.0,495.0 L233.0,494.9 L234.0,494.8 L235.0,494.7 L236.0,494.7 L237.0,494.6 L238.0,494.5 L239.0,494.4 L240.0,494.3 L241.0,494.1 L242.0,494.0 L243.0,493.9 L244.0,493.8 L245.0,493.6 L246.0,493.5 L247.0,493.3 L248.0,493.2 L249.0,493.0 L250.0,492.9 L251.0,492.7 L252.0,492.5 L253.0,492.4 L254.0,492.2 L255.0,492.0 L256.0,491.8 L257.0,491.6 L258.0,491.4 L259.0,491.2 L260.0,491.0 L261.0,490.8 L262.0,490.6 L263.0,490.3 L264.0,490.1 L265.0,489.8 L266.0,489.6 L267.0,489.3 L268.0,489.0 L269.0,488.7 L270.0,488.4 L271.0,488.0 L272.0,487.7 L273.0,487.3 L274.0,486.9 L275.0,486.4 L276.0,486.0 L277.0,485.5 L278.0,485.0 L279.0,484.4 L280.0,483.8 L281.0,483.2 L282.0,482.6 L283.0,481.9 L284.0,481.2 L285.0,480.4 L286.0,479.6 L287.0,478.8 L288.0,477.9 L289.0,477.0 L290.0,476.0 L291.0,475.0 L292.0,473.9 L293.0,472.8 L294.0,471.6 L295.0,470.4 L296.0,469.1 L297.0,467.7 L298.0,466.3 L299.0,464.7 L300.0,463.1 L301.0,461.5 L302.0,459.7 L303.0,457.8 L304.0,455.9 L305.0,453.9 L306.0,451.7 L307.0,449.5 L308.0,447.2 L309.0,444.7 L310.0,442.2 L311.0,439.5 L312.0,436.7 L313.0,433.8 L314.0,430.8 L315.0,427.6 L316.0,424.4 L317.0,421.0 L318.0,417.4 L319.0,413.8 L320.0,410.1 L321.0,406.2 L322.0,402.3 L323.0,398.3 L324.0,394.2 L325.0,390.0 L326.0,385.7 L327.0,381.3 L328.0,376.9 L329.0,372.4 L330.0,367.9 L331.0,363.3 L332.0,358.7 L333.0,354.0 L334.0,349.4 L335.0,344.7 L336.0,340.0 L337.0,335.3 L338.0,330.6 L339.0,326.0 L340.0,321.4 L341.0,316.9 L342.0,312.4 L343.0,308.0 L344.0,303.6 L345.0,299.4 L346.0,295.3 L347.0,291.2 L348.0,287.3 L349.0,283.6 L350.0,279.9 L351.0,276.4 L352.0,273.1 L353.0,269.9 L354.0,266.9 L355.0,264.1 L356.0,261.4 L357.0,258.9 L358.0,256.7 L359.0,254.6 L360.0,252.7 L361.0,251.0 L362.0,249.5 L363.0,248.2 L364.0,247.2 L365.0,246.4 L366.0,245.8 L367.0,245.4 L368.0,245.2 L369.0,245.2 L370.0,245.4 L371.0,245.8 L372.0,246.4 L373.0,247.2 L374.0,248.2 L375.0,249.4 L376.0,250.8 L377.0,252.3 L378.0,254.1 L379.0,256.0 L380.0,258.1 L381.0,260.3 L382.0,262.7 L383.0,265.3 L384.0,268.1 L385.0,271.0 L386.0,274.1 L387.0,277.4 L388.0,280.8 L389.0,284.4 L390.0,288.1 L391.0,292.0 L392.0,296.0 L393.0,300.1 L394.0,304.4 L395.0,308.9 L396.0,313.4 L397.0,318.1 L398.0,322.9 L399.0,327.7 L400.0,332.7 L401.0,337.7 L402.0,342.8 L403.0,348.0 L404.0,353.2 L405.0,358.4 L406.0,363.7 L407.0,369.0 L408.0,374.3 L409.0,379.6 L410.0,384.9 L411.0,390.2 L412.0,395.5 L413.0,400.7 L414.0,405.9 L415.0,411.1 L416.0,416.2 L417.0,421.3 L418.0,426.3 L419.0,431.2 L420.0,436.1 L421.0,440.8 L422.0,445.5 L423.0,450.1 L424.0,454.6 L425.0,459.0 L426.0,463.3 L427.0,467.4 L428.0,471.5 L429.0,475.4 L430.0,479.3 L431.0,483.0 L432.0,486.6 L433.0,490.1 L434.0,493.5 L435.0,496.8 L436.0,500.1 L437.0,503.2 L438.0,506.2 L439.0,509.2 L440.0,511.9 L441.0,514.6 L442.0,517.1 L443.0,519.5 L444.0,521.8 L445.0,523.9 L446.0,525.8 L447.0,527.6 L448.0,529.3 L449.0,530.8 L450.0,532.1 L451.0,533.3 L452.0,534.4 L453.0,535.4 L454.0,536.2 L455.0,536.9 L456.0,537.4 L457.0,537.9 L458.0,538.3 L459.0,538.6 L460.0,538.8 L461.0,538.9 L462.0,539.0 L463.0,539.0 L464.0,538.9 L465.0,538.8 L466.0,538.6 L467.0,538.4 L468.0,538.1 L469.0,537.9 L470.0,537.6 L471.0,537.3 L472.0,536.9 L473.0,536.6 L474.0,536.3 L475.0,535.9 L476.0,535.6 L477.0,535.3 L478.0,534.9 L479.0,534.5 L480.0,534.1 L481.0,533.8 L482.0,533.4 L483.0,533.0 L484.0,532.6 L485.0,532.3 L486.0,531.9 L487.0,531.5 L488.0,531.1 L489.0,530.8 L490.0,530.4 L491.0,530.0 L492.0,529.7 L493.0,529.3 L494.0,528.9 L495.0,528.5 L496.0,528.2 L497.0,527.8 L498.0,527.4 L499.0,527.1 L500.0,526.7 L501.0,526.3 L502.0,525.9 L503.0,525.5 L504.0,525.1 L505.0,524.8 L506.0,524.4 L507.0,524.0 L508.0,523.6 L509.0,523.2 L510.0,522.7 L511.0,522.3 L512.0,521.9 L513.0,521.5 L514.0,521.1 L515.0,520.6 L516.0,520.2 L517.0,519.7 L518.0,519.3 L519.0,518.8 L520.0,518.3 L521.0,517.9 L522.0,517.4 L523.0,516.9 L524.0,516.4 L525.0,515.9 L526.0,515.4 L527.0,514.9 L528.0,514.4 L529.0,513.9 L530.0,513.4 L531.0,512.9 L532.0,512.3 L533.0,511.8 L534.0,511.3 L535.0,510.7 L536.0,510.2 L537.0,509.7 L538.0,509.1 L539.0,508.6 L540.0,508.0 L541.0,507.5 L542.0,506.9 L543.0,506.4 L544.0,505.8 L545.0,505.2 L546.0,504.7 L547.0,504.1 L548.0,503.6 L549.0,503.0 L550.0,502.4 L551.0,501.8 L552.0,501.3 L553.0,500.7 L554.0,500.1 L555.0,499.6 L556.0,499.0 L557.0,498.4 L558.0,497.9 L559.0,497.3 L560.0,496.7 L561.0,496.2 L562.0,495.6 L563.0,495.1 L564.0,494.5 L565.0,494.0 L566.0,493.4 L567.0,492.9 L568.0,492.4 L569.0,491.8 L570.0,491.3 L571.0,490.8 L572.0,490.3 L573.0,489.8 L574.0,489.3 L575.0,488.8 L576.0,488.3 L577.0,487.8 L578.0,487.4 L579.0,486.9 L580.0,486.5 L581.0,486.0 L582.0,485.6 L583.0,485.2 L584.0,484.7 L585.0,484.3 L586.0,483.9 L587.0,483.6 L588.0,483.2 L589.0,482.8 L590.0,482.5 L591.0,482.1 L592.0,481.8 L593.0,481.5 L594.0,481.2 L595.0,480.9 L596.0,480.6 L597.0,480.3 L598.0,480.0 L599.0,479.8 L600.0,479.6 L601.0,479.3 L602.0,479.1 L603.0,478.9 L604.0,478.7 L605.0,478.5 L606.0,478.4 L607.0,478.2 L608.0,478.1 L609.0,477.9 L610.0,477.8 L611.0,477.7 L612.0,477.6 L613.0,477.5 L614.0,477.4 L615.0,477.3 L616.0,477.3 L617.0,477.2 L618.0,477.2 L619.0,477.1 L620.0,477.1 L621.0,477.1 L622.0,477.1 L623.0,477.1 L624.0,477.1 L625.0,477.1 L626.0,477.1 L627.0,477.1 L628.0,477.2 L629.0,477.2 L630.0,477.2 L631.0,477.3 L632.0,477.3 L633.0,477.4 L634.0,477.5 L635.0,477.5 L636.0,477.6 L637.0,477.7 L638.0,477.8 L639.0,477.9 L640.0,477.9 L641.0,478.0 L642.0,478.1 L643.0,478.2 L644.0,478.3 L645.0,478.4 L646.0,478.6 L647.0,478.7 L648.0,478.8 L649.0,478.9 L650.0,479.0 L651.0,479.1 L652.0,479.3 L653.0,479.4 L654.0,479.5 L655.0,479.6 L656.0,479.7 L657.0,479.9 L658.0,480.0 L659.0,480.1 L660.0,480.2 L661.0,480.4 L662.0,480.5 L663.0,480.6 L664.0,480.7 L665.0,480.8 L666.0,481.0 L667.0,481.1 L668.0,481.2 L669.0,481.3 L670.0,481.4 L671.0,481.5 L672.0,481.7 L673.0,481.8 L674.0,481.9 L675.0,482.0 L676.0,482.1 L677.0,482.2 L678.0,482.3 L679.0,482.4 L680.0,482.5 L681.0,482.6 L682.0,482.7 L683.0,482.7 L684.0,482.8 L685.0,482.9 L686.0,483.0 L687.0,483.1 L688.0,483.1 L689.0,483.2 L690.0,483.3 L691.0,483.3 L692.0,483.4 L693.0,483.4 L694.0,483.5 L695.0,483.5 L696.0,483.5 L697.0,483.6 L698.0,483.6 L699.0,483.6 L700.0,483.6 L701.0,483.6 L702.0,483.6 L703.0,483.6 L704.0,483.6 L705.0,483.6 L706.0,483.6 L707.0,483.5 L708.0,483.5 L709.0,483.5 L710.0,483.4 L711.0,483.4 L712.0,483.3 L713.0,483.3 L714.0,483.2 L715.0,483.1 L716.0,483.1 L717.0,483.0 L718.0,482.9 L719.0,482.8 L720.0,482.7 L721.0,482.6 L722.0,482.4 L723.0,482.3 L724.0,482.2 L725.0,482.0 L726.0,481.9 L727.0,481.7 L728.0,481.6 L729.0,481.4 L730.0,481.2 L731.0,481.1 L732.0,480.9 L733.0,480.7 L734.0,480.5 L735.0,480.3 L736.0,480.1 L737.0,479.9 L738.0,479.7 L739.0,479.4 L740.0,479.2 L741.0,479.0 L742.0,478.7 L743.0,478.5 L744.0,478.3 L745.0,478.0 L746.0,477.8 L747.0,477.5 L748.0,477.2 L749.0,477.0 L750.0,476.7 L751.0,476.4 L752.0,476.2 L753.0,475.9 L754.0,475.6 L755.0,475.3 L756.0,475.0 L757.0,474.8 L758.0,474.5 L759.0,474.2 L760.0,473.9 L761.0,473.6 L762.0,473.3 L763.0,473.0 L764.0,472.7 L765.0,472.4 L766.0,472.2 L767.0,471.9 L768.0,471.6 L769.0,471.3 L770.0,471.0 L771.0,470.8 L772.0,470.5 L773.0,470.2 L774.0,470.0 L775.0,469.8 L776.0,469.5 L777.0,469.3 L778.0,469.1 L779.0,468.9 L780.0,468.7 L781.0,468.5 L782.0,468.4 L783.0,468.2 L784.0,468.1 L785.0,467.9 L786.0,467.8 L787.0,467.7 L788.0,467.7 L789.0,467.6 L790.0,467.6 L791.0,467.6 L792.0,467.6 L793.0,467.6 L794.0,467.6 L795.0,467.7 L796.0,467.7 L797.0,467.8 L798.0,467.9 L799.0,468.0 L800.0,468.1 L801.0,468.2 L802.0,468.3 L803.0,468.5 L804.0,468.6 L805.0,468.8 L806.0,468.9 L807.0,469.1 L808.0,469.3 L809.0,469.5 L810.0,469.6 L811.0,469.8 L812.0,470.0 L813.0,470.2 L814.0,470.4 L815.0,470.6 L816.0,470.8 L817.0,470.9 L818.0,471.1 L819.0,471.3 L820.0,471.5 L821.0,471.6 L822.0,471.8 L823.0,472.0 L824.0,472.1 L825.0,472.3 L826.0,472.4 L827.0,472.5 L828.0,472.7 L829.0,472.8 L830.0,472.9 L831.0,473.0 L832.0,473.1 L833.0,473.1 L834.0,473.2 L835.0,473.2 L836.0,473.3 L837.0,473.3 L838.0,473.3 L839.0,473.3 L840.0,473.3 L841.0,473.2 L842.0,473.1 L843.0,473.1 L844.0,473.0 L845.0,472.8 L846.0,472.7 L847.0,472.5 L848.0,472.4 L849.0,472.2 L850.0,471.9 L851.0,471.7 L852.0,471.4 L853.0,471.2 L854.0,470.9 L855.0,470.6 L856.0,470.2 L857.0,469.9 L858.0,469.5 L859.0,469.2 L860.0,468.8 L861.0,468.4 L862.0,468.0 L863.0,467.6 L864.0,467.2 L865.0,466.7 L866.0,466.3 L867.0,465.9 L868.0,465.4 L869.0,464.9 L870.0,464.5 L871.0,464.0 L872.0,463.5 L873.0,463.1 L874.0,462.6 L875.0,462.1 L876.0,461.6 L877.0,461.2 L878.0,460.7 L879.0,460.2 L880.0,459.7 L881.0,459.3 L882.0,458.8 L883.0,458.4 L884.0,457.9 L885.0,457.5 L886.0,457.0 L887.0,456.6 L888.0,456.2 L889.0,455.7 L890.0,455.3 L891.0,454.9 L892.0,454.6 L893.0,454.2 L894.0,453.8 L895.0,453.5 L896.0,453.2 L897.0,452.8 L898.0,452.5 L899.0,452.3 L900.0,452.0 L901.0,451.7 L902.0,451.5 L903.0,451.3 L904.0,451.1 L905.0,450.9 L906.0,450.7 L907.0,450.5 L908.0,450.4 L909.0,450.3 L910.0,450.2 L911.0,450.1 L912.0,450.1 L913.0,450.0 L914.0,450.0 L915.0,450.0 L916.0,450.0 L917.0,450.1 L918.0,450.2 L919.0,450.3 L920.0,450.4 L921.0,450.5 L922.0,450.7 L923.0,450.9 L924.0,451.1 L925.0,451.4 L926.0,451.6 L927.0,451.9 L928.0,452.2 L929.0,452.6 L930.0,452.9 L931.0,453.3 L932.0,453.7 L933.0,454.1 L934.0,454.5 L935.0,454.9 L936.0,455.4 L937.0,455.8 L938.0,456.3 L939.0,456.8 L940.0,457.2 L941.0,457.7 L942.0,458.2 L943.0,458.7 L944.0,459.2 L945.0,459.8 L946.0,460.3 L947.0,460.8 L948.0,461.4 L949.0,462.0 L950.0,462.6 L951.0,463.2 L952.0,463.8 L953.0,464.5 L954.0,465.2 L955.0,465.9 L956.0,466.6 L957.0,467.4 L958.0,468.1 L959.0,469.0 L960.0,469.8 L961.0,470.7 L962.0,471.6 L963.0,472.6 L964.0,473.6 L965.0,474.7 L966.0,475.8 L967.0,477.0 L968.0,478.2 L969.0,479.5 L970.0,480.8 L971.0,482.2 L972.0,483.7 L973.0,485.2 L974.0,486.8 L975.0,488.4 L976.0,490.1 L977.0,491.8 L978.0,493.6 L979.0,495.5 L980.0,497.2 L981.0,499.0 L982.0,500.7 L983.0,502.5 L984.0,504.2 L985.0,505.9 L986.0,507.6 L987.0,509.3 L988.0,511.1 L989.0,512.9 L990.0,514.8 L991.0,516.7 L992.0,518.7 L993.0,520.8 L994.0,523.0 L995.0,525.4 L996.0,527.8 L997.0,530.3 L998.0,533.0 L999.0,535.8 L1000.0,538.8 L1001.0,541.9 L1002.0,545.1 L1003.0,548.4 L1004.0,551.9 L1005.0,555.5 L1006.0,559.2 L1007.0,563.0 L1008.0,566.9 L1009.0,570.9 L1010.0,574.9 L1011.0,578.9 L1012.0,582.9 L1013.0,587.0 L1014.0,591.0 L1015.0,595.0 L1016.0,598.9 L1017.0,602.9 L1018.0,606.8 L1019.0,610.7 L1020.0,614.5 L1021.0,618.3 L1022.0,622.0 L1023.0,625.7 L1024.0,629.4 L1025.0,633.0 L1026.0,636.6 L1027.0,640.1 L1028.0,643.5 L1029.0,647.0 L1030.0,650.3 L1031.0,653.6 L1032.0,656.9 L1033.0,660.1 L1034.0,663.2 L1035.0,666.3 L1036.0,669.4 L1037.0,672.5 L1038.0,675.5 L1039.0,678.4 L1040.0,681.4 L1041.0,684.3 L1042.0,687.2 L1043.0,690.1 L1044.0,693.0 L1045.0,695.9 L1046.0,698.8 L1047.0,701.7 L1048.0,704.5 L1049.0,707.1 L1050.0,709.7 L1051.0,712.2 L1052.0,714.5 L1053.0,716.8 L1054.0,718.9 L1055.0,720.9 L1056.0,722.8 L1057.0,724.6 L1058.0,726.2 L1059.0,727.7 L1060.0,729.0 L1061.0,730.2 L1062.0,731.3 L1063.0,732.1 L1064.0,732.9 L1065.0,733.4 L1066.0,733.9 L1067.0,734.1 L1068.0,734.1 L1069.0,734.0 L1070.0,733.7 L1071.0,733.2 L1072.0,732.6 L1073.0,731.7 L1074.0,730.6 L1075.0,729.4 L1076.0,727.9 L1077.0,726.3 L1078.0,724.5 L1079.0,722.5 L1080.0,720.3 L1081.0,718.0 L1082.0,715.5 L1083.0,712.9 L1084.0,710.1 L1085.0,707.2 L1086.0,704.2 L1087.0,701.0 L1088.0,697.7 L1089.0,694.3 L1090.0,690.8 L1091.0,687.2 L1092.0,683.4 L1093.0,679.6 L1094.0,675.7 L1095.0,671.7 L1096.0,667.6 L1097.0,663.5 L1098.0,659.3 L1099.0,655.1 L1100.0,650.8 L1101.0,646.5 L1102.0,642.2 L1103.0,637.8 L1104.0,633.5 L1105.0,629.1 L1106.0,624.8 L1107.0,620.4 L1108.0,616.1 L1109.0,611.8 L1110.0,607.6 L1111.0,603.3 L1112.0,599.2 L1113.0,595.0 L1114.0,591.0 L1115.0,587.0 L1116.0,583.0 L1117.0,579.2 L1118.0,575.4 L1119.0,571.7 L1120.0,568.1 L1121.0,564.5 L1122.0,561.0 L1123.0,557.6 L1124.0,554.3 L1125.0,551.1 L1126.0,548.0 L1127.0,545.0 L1128.0,542.0 L1129.0,539.2 L1130.0,536.4 L1131.0,533.8 L1132.0,531.2 L1133.0,528.8 L1134.0,526.4 L1135.0,524.2 L1136.0,522.0 L1137.0,520.0 L1138.0,518.1 L1139.0,516.3 L1140.0,514.6 L1141.0,513.1 L1142.0,511.6 L1143.0,510.2 L1144.0,509.0 L1145.0,507.8 L1146.0,506.7 L1147.0,505.7 L1148.0,504.8 L1149.0,504.0 L1150.0,503.2 L1151.0,502.5 L1152.0,501.9 L1153.0,501.3 L1154.0,500.7 L1155.0,500.3 L1156.0,499.8 L1157.0,499.4 L1158.0,499.1 L1159.0,498.7 L1160.0,498.4 L1161.0,498.1 L1162.0,497.9 L1163.0,497.6 L1164.0,497.4 L1165.0,497.1 L1166.0,496.9 L1167.0,496.7 L1168.0,496.5 L1169.0,496.3 L1170.0,496.1 L1171.0,496.0 L1172.0,495.8 L1173.0,495.6 L1174.0,495.5 L1175.0,495.3 L1176.0,495.2 L1177.0,495.1 L1178.0,495.0 L1179.0,494.9 L1180.0,494.8 L1181.0,494.7 L1182.0,494.6 L1183.0,494.5 L1184.0,494.5 L1185.0,494.4 L1186.0,494.4 L1187.0,494.3 L1188.0,494.3 L1189.0,494.2 L1190.0,494.2 L1191.0,494.2 L1192.0,494.2 L1193.0,494.1 L1194.0,494.1 L1195.0,494.1 L1196.0,494.1 L1197.0,494.1 L1198.0,494.2 L1199.0,494.2 L1200.0,494.2 L1201.0,494.2 L1202.0,494.3 L1203.0,494.3 L1204.0,494.3 L1205.0,494.4 L1206.0,494.4 L1207.0,494.5 L1208.0,494.5 L1209.0,494.6 L1210.0,494.6 L1211.0,494.7 L1212.0,494.7 L1213.0,494.8 L1214.0,494.9 L1215.0,494.9 L1216.0,495.0 L1217.0,495.1 L1218.0,495.1 L1219.0,495.2 L1220.0,495.3 L1221.0,495.3 L1222.0,495.4 L1223.0,495.5 L1224.0,495.6 L1225.0,495.6 L1226.0,495.7 L1226.3,495.7" fill="none" stroke="#1660e0" stroke-width="5.0" stroke-linejoin="round" stroke-linecap="round"/>
<path d="M205.0,494.7 L206.0,494.8 L207.0,494.9 L208.0,495.0 L209.0,495.1 L210.0,495.1 L211.0,495.2 L212.0,495.2 L213.0,495.3 L214.0,495.3 L215.0,495.3 L216.0,495.4 L217.0,495.4 L218.0,495.4 L219.0,495.4 L220.0,495.4 L221.0,495.4 L222.0,495.4 L223.0,495.4 L224.0,495.4 L225.0,495.4 L226.0,495.3 L227.0,495.3 L228.0,495.3 L229.0,495.2 L230.0,495.2 L231.0,495.1 L232.0,495.0 L233.0,495.0 L234.0,494.9 L235.0,494.8 L236.0,494.7 L237.0,494.6 L238.0,494.5 L239.0,494.4 L240.0,494.3 L241.0,494.2 L242.0,494.1 L243.0,494.0 L244.0,493.9 L245.0,493.7 L246.0,493.6 L247.0,493.5 L248.0,493.3 L249.0,493.2 L250.0,493.0 L251.0,492.8 L252.0,492.7 L253.0,492.5 L254.0,492.3 L255.0,492.1 L256.0,492.0 L257.0,491.8 L258.0,491.6 L259.0,491.4 L260.0,491.2 L261.0,490.9 L262.0,490.7 L263.0,490.5 L264.0,490.3 L265.0,490.0 L266.0,489.8 L267.0,489.5 L268.0,489.2 L269.0,488.9 L270.0,488.6 L271.0,488.3 L272.0,488.0 L273.0,487.6 L274.0,487.2 L275.0,486.8 L276.0,486.3 L277.0,485.9 L278.0,485.4 L279.0,484.9 L280.0,484.3 L281.0,483.7 L282.0,483.1 L283.0,482.5 L284.0,481.8 L285.0,481.0 L286.0,480.3 L287.0,479.5 L288.0,478.6 L289.0,477.7 L290.0,476.8 L291.0,475.8 L292.0,474.8 L293.0,473.7 L294.0,472.6 L295.0,471.4 L296.0,470.1 L297.0,468.8 L298.0,467.4 L299.0,466.0 L300.0,464.4 L301.0,462.8 L302.0,461.1 L303.0,459.3 L304.0,457.5 L305.0,455.5 L306.0,453.4 L307.0,451.3 L308.0,449.0 L309.0,446.7 L310.0,444.2 L311.0,441.6 L312.0,439.0 L313.0,436.1 L314.0,433.2 L315.0,430.2 L316.0,427.0 L317.0,423.7 L318.0,420.3 L319.0,416.7 L320.0,413.1 L321.0,409.3 L322.0,405.5 L323.0,401.5 L324.0,397.4 L325.0,393.3 L326.0,389.1 L327.0,384.8 L328.0,380.4 L329.0,376.0 L330.0,371.5 L331.0,367.0 L332.0,362.4 L333.0,357.7 L334.0,353.1 L335.0,348.4 L336.0,343.7 L337.0,339.0 L338.0,334.3 L339.0,329.6 L340.0,325.0 L341.0,320.4 L342.0,315.8 L343.0,311.3 L344.0,306.9 L345.0,302.5 L346.0,298.3 L347.0,294.1 L348.0,290.1 L349.0,286.2 L350.0,282.4 L351.0,278.8 L352.0,275.2 L353.0,271.9 L354.0,268.7 L355.0,265.7 L356.0,262.8 L357.0,260.1 L358.0,257.6 L359.0,255.3 L360.0,253.2 L361.0,251.3 L362.0,249.6 L363.0,248.2 L364.0,246.9 L365.0,245.9 L366.0,245.1 L367.0,244.5 L368.0,244.1 L369.0,243.9 L370.0,244.0 L371.0,244.2 L372.0,244.7 L373.0,245.4 L374.0,246.2 L375.0,247.3 L376.0,248.5 L377.0,249.9 L378.0,251.6 L379.0,253.4 L380.0,255.4 L381.0,257.5 L382.0,259.9 L383.0,262.4 L384.0,265.1 L385.0,267.9 L386.0,270.9 L387.0,274.1 L388.0,277.5 L389.0,280.9 L390.0,284.6 L391.0,288.4 L392.0,292.3 L393.0,296.4 L394.0,300.7 L395.0,305.0 L396.0,309.5 L397.0,314.1 L398.0,318.8 L399.0,323.7 L400.0,328.6 L401.0,333.6 L402.0,338.6 L403.0,343.8 L404.0,348.9 L405.0,354.2 L406.0,359.4 L407.0,364.7 L408.0,370.0 L409.0,375.3 L410.0,380.6 L411.0,386.0 L412.0,391.3 L413.0,396.5 L414.0,401.8 L415.0,407.0 L416.0,412.1 L417.0,417.2 L418.0,422.3 L419.0,427.3 L420.0,432.2 L421.0,437.0 L422.0,441.8 L423.0,446.4 L424.0,451.0 L425.0,455.5 L426.0,459.8 L427.0,464.1 L428.0,468.2 L429.0,472.3 L430.0,476.2 L431.0,480.0 L432.0,483.7 L433.0,487.3 L434.0,490.8 L435.0,494.1 L436.0,497.4 L437.0,500.5 L438.0,503.6 L439.0,506.5 L440.0,509.3 L441.0,512.0 L442.0,514.5 L443.0,517.0 L444.0,519.3 L445.0,521.5 L446.0,523.5 L447.0,525.5 L448.0,527.3 L449.0,528.9 L450.0,530.5 L451.0,531.9 L452.0,533.2 L453.0,534.4 L454.0,535.5 L455.0,536.5 L456.0,537.4 L457.0,538.1 L458.0,538.8 L459.0,539.4 L460.0,539.9 L461.0,540.4 L462.0,540.7 L463.0,541.0 L464.0,541.2 L465.0,541.4 L466.0,541.5 L467.0,541.5 L468.0,541.5 L469.0,541.5 L470.0,541.4 L471.0,541.2 L472.0,541.1 L473.0,540.9 L474.0,540.7 L475.0,540.4 L476.0,540.2 L477.0,539.9 L478.0,539.6 L479.0,539.3 L480.0,538.9 L481.0,538.6 L482.0,538.2 L483.0,537.9 L484.0,537.5 L485.0,537.2 L486.0,536.8 L487.0,536.5 L488.0,536.1 L489.0,535.7 L490.0,535.4 L491.0,535.0 L492.0,534.6 L493.0,534.2 L494.0,533.9 L495.0,533.5 L496.0,533.1 L497.0,532.7 L498.0,532.3 L499.0,531.9 L500.0,531.5 L501.0,531.1 L502.0,530.7 L503.0,530.3 L504.0,529.9 L505.0,529.5 L506.0,529.1 L507.0,528.7 L508.0,528.2 L509.0,527.8 L510.0,527.4 L511.0,526.9 L512.0,526.5 L513.0,526.0 L514.0,525.6 L515.0,525.1 L516.0,524.7 L517.0,524.2 L518.0,523.7 L519.0,523.2 L520.0,522.7 L521.0,522.3 L522.0,521.8 L523.0,521.3 L524.0,520.8 L525.0,520.3 L526.0,519.7 L527.0,519.2 L528.0,518.7 L529.0,518.2 L530.0,517.7 L531.0,517.1 L532.0,516.6 L533.0,516.0 L534.0,515.5 L535.0,514.9 L536.0,514.4 L537.0,513.8 L538.0,513.3 L539.0,512.7 L540.0,512.1 L541.0,511.5 L542.0,511.0 L543.0,510.4 L544.0,509.8 L545.0,509.2 L546.0,508.6 L547.0,508.0 L548.0,507.4 L549.0,506.8 L550.0,506.2 L551.0,505.6 L552.0,504.9 L553.0,504.3 L554.0,503.7 L555.0,503.1 L556.0,502.4 L557.0,501.8 L558.0,501.2 L559.0,500.6 L560.0,499.9 L561.0,499.3 L562.0,498.7 L563.0,498.1 L564.0,497.4 L565.0,496.8 L566.0,496.2 L567.0,495.6 L568.0,495.0 L569.0,494.4 L570.0,493.8 L571.0,493.2 L572.0,492.6 L573.0,492.0 L574.0,491.4 L575.0,490.9 L576.0,490.3 L577.0,489.7 L578.0,489.2 L579.0,488.6 L580.0,488.1 L581.0,487.6 L582.0,487.1 L583.0,486.6 L584.0,486.1 L585.0,485.6 L586.0,485.1 L587.0,484.6 L588.0,484.2 L589.0,483.7 L590.0,483.3 L591.0,482.9 L592.0,482.5 L593.0,482.1 L594.0,481.7 L595.0,481.3 L596.0,481.0 L597.0,480.6 L598.0,480.3 L599.0,480.0 L600.0,479.7 L601.0,479.4 L602.0,479.1 L603.0,478.9 L604.0,478.6 L605.0,478.4 L606.0,478.1 L607.0,477.9 L608.0,477.7 L609.0,477.5 L610.0,477.3 L611.0,477.2 L612.0,477.0 L613.0,476.8 L614.0,476.7 L615.0,476.6 L616.0,476.4 L617.0,476.3 L618.0,476.2 L619.0,476.1 L620.0,476.0 L621.0,476.0 L622.0,475.9 L623.0,475.8 L624.0,475.8 L625.0,475.7 L626.0,475.7 L627.0,475.7 L628.0,475.6 L629.0,475.6 L630.0,475.6 L631.0,475.6 L632.0,475.6 L633.0,475.6 L634.0,475.7 L635.0,475.7 L636.0,475.7 L637.0,475.8 L638.0,475.8 L639.0,475.9 L640.0,475.9 L641.0,476.0 L642.0,476.0 L643.0,476.1 L644.0,476.2 L645.0,476.2 L646.0,476.3 L647.0,476.4 L648.0,476.5 L649.0,476.6 L650.0,476.7 L651.0,476.8 L652.0,476.9 L653.0,477.0 L654.0,477.1 L655.0,477.2 L656.0,477.3 L657.0,477.4 L658.0,477.5 L659.0,477.6 L660.0,477.7 L661.0,477.8 L662.0,478.0 L663.0,478.1 L664.0,478.2 L665.0,478.3 L666.0,478.4 L667.0,478.5 L668.0,478.7 L669.0,478.8 L670.0,478.9 L671.0,479.0 L672.0,479.1 L673.0,479.3 L674.0,479.4 L675.0,479.5 L676.0,479.6 L677.0,479.7 L678.0,479.8 L679.0,479.9 L680.0,480.0 L681.0,480.1 L682.0,480.2 L683.0,480.3 L684.0,480.4 L685.0,480.5 L686.0,480.6 L687.0,480.7 L688.0,480.8 L689.0,480.9 L690.0,480.9 L691.0,481.0 L692.0,481.1 L693.0,481.1 L694.0,481.2 L695.0,481.3 L696.0,481.3 L697.0,481.4 L698.0,481.4 L699.0,481.4 L700.0,481.5 L701.0,481.5 L702.0,481.5 L703.0,481.5 L704.0,481.5 L705.0,481.5 L706.0,481.5 L707.0,481.5 L708.0,481.5 L709.0,481.5 L710.0,481.5 L711.0,481.4 L712.0,481.4 L713.0,481.4 L714.0,481.3 L715.0,481.3 L716.0,481.2 L717.0,481.1 L718.0,481.1 L719.0,481.0 L720.0,480.9 L721.0,480.8 L722.0,480.7 L723.0,480.6 L724.0,480.5 L725.0,480.4 L726.0,480.3 L727.0,480.2 L728.0,480.0 L729.0,479.9 L730.0,479.7 L731.0,479.6 L732.0,479.4 L733.0,479.3 L734.0,479.1 L735.0,478.9 L736.0,478.7 L737.0,478.5 L738.0,478.3 L739.0,478.1 L740.0,477.9 L741.0,477.7 L742.0,477.5 L743.0,477.3 L744.0,477.0 L745.0,476.8 L746.0,476.6 L747.0,476.3 L748.0,476.1 L749.0,475.8 L750.0,475.5 L751.0,475.3 L752.0,475.0 L753.0,474.7 L754.0,474.4 L755.0,474.1 L756.0,473.8 L757.0,473.5 L758.0,473.2 L759.0,472.9 L760.0,472.5 L761.0,472.2 L762.0,471.9 L763.0,471.5 L764.0,471.2 L765.0,470.8 L766.0,470.5 L767.0,470.2 L768.0,469.8 L769.0,469.5 L770.0,469.1 L771.0,468.8 L772.0,468.5 L773.0,468.1 L774.0,467.8 L775.0,467.5 L776.0,467.2 L777.0,466.9 L778.0,466.6 L779.0,466.3 L780.0,466.1 L781.0,465.8 L782.0,465.6 L783.0,465.4 L784.0,465.2 L785.0,465.0 L786.0,464.8 L787.0,464.7 L788.0,464.5 L789.0,464.4 L790.0,464.3 L791.0,464.3 L792.0,464.2 L793.0,464.2 L794.0,464.2 L795.0,464.2 L796.0,464.2 L797.0,464.2 L798.0,464.3 L799.0,464.4 L800.0,464.4 L801.0,464.5 L802.0,464.6 L803.0,464.8 L804.0,464.9 L805.0,465.0 L806.0,465.2 L807.0,465.3 L808.0,465.5 L809.0,465.6 L810.0,465.8 L811.0,466.0 L812.0,466.1 L813.0,466.3 L814.0,466.5 L815.0,466.7 L816.0,466.8 L817.0,467.0 L818.0,467.2 L819.0,467.4 L820.0,467.5 L821.0,467.7 L822.0,467.9 L823.0,468.0 L824.0,468.2 L825.0,468.3 L826.0,468.5 L827.0,468.6 L828.0,468.7 L829.0,468.9 L830.0,469.0 L831.0,469.1 L832.0,469.2 L833.0,469.2 L834.0,469.3 L835.0,469.4 L836.0,469.4 L837.0,469.5 L838.0,469.5 L839.0,469.5 L840.0,469.5 L841.0,469.4 L842.0,469.4 L843.0,469.3 L844.0,469.3 L845.0,469.2 L846.0,469.1 L847.0,468.9 L848.0,468.8 L849.0,468.6 L850.0,468.4 L851.0,468.2 L852.0,468.0 L853.0,467.7 L854.0,467.5 L855.0,467.2 L856.0,466.9 L857.0,466.6 L858.0,466.2 L859.0,465.9 L860.0,465.5 L861.0,465.2 L862.0,464.8 L863.0,464.4 L864.0,464.0 L865.0,463.6 L866.0,463.2 L867.0,462.7 L868.0,462.3 L869.0,461.9 L870.0,461.4 L871.0,461.0 L872.0,460.5 L873.0,460.1 L874.0,459.6 L875.0,459.2 L876.0,458.7 L877.0,458.2 L878.0,457.8 L879.0,457.3 L880.0,456.9 L881.0,456.4 L882.0,456.0 L883.0,455.5 L884.0,455.1 L885.0,454.7 L886.0,454.2 L887.0,453.8 L888.0,453.4 L889.0,453.0 L890.0,452.6 L891.0,452.3 L892.0,451.9 L893.0,451.5 L894.0,451.2 L895.0,450.9 L896.0,450.5 L897.0,450.2 L898.0,449.9 L899.0,449.7 L900.0,449.4 L901.0,449.1 L902.0,448.9 L903.0,448.7 L904.0,448.5 L905.0,448.3 L906.0,448.1 L907.0,447.9 L908.0,447.8 L909.0,447.7 L910.0,447.5 L911.0,447.4 L912.0,447.4 L913.0,447.3 L914.0,447.3 L915.0,447.2 L916.0,447.2 L917.0,447.2 L918.0,447.3 L919.0,447.3 L920.0,447.4 L921.0,447.5 L922.0,447.6 L923.0,447.7 L924.0,447.9 L925.0,448.1 L926.0,448.3 L927.0,448.5 L928.0,448.7 L929.0,449.0 L930.0,449.3 L931.0,449.6 L932.0,449.9 L933.0,450.2 L934.0,450.6 L935.0,450.9 L936.0,451.3 L937.0,451.7 L938.0,452.2 L939.0,452.6 L940.0,453.0 L941.0,453.5 L942.0,454.0 L943.0,454.5 L944.0,455.0 L945.0,455.5 L946.0,456.0 L947.0,456.5 L948.0,457.1 L949.0,457.7 L950.0,458.2 L951.0,458.8 L952.0,459.5 L953.0,460.1 L954.0,460.7 L955.0,461.4 L956.0,462.1 L957.0,462.7 L958.0,463.4 L959.0,464.2 L960.0,464.9 L961.0,465.7 L962.0,466.5 L963.0,467.3 L964.0,468.1 L965.0,469.0 L966.0,469.9 L967.0,470.9 L968.0,471.9 L969.0,472.9 L970.0,474.1 L971.0,475.2 L972.0,476.4 L973.0,477.7 L974.0,479.0 L975.0,480.4 L976.0,481.9 L977.0,483.4 L978.0,485.0 L979.0,486.7 L980.0,488.4 L981.0,490.1 L982.0,491.9 L983.0,493.7 L984.0,495.6 L985.0,497.6 L986.0,499.6 L987.0,501.7 L988.0,503.8 L989.0,506.0 L990.0,508.3 L991.0,510.7 L992.0,513.2 L993.0,515.8 L994.0,518.5 L995.0,521.3 L996.0,524.2 L997.0,527.1 L998.0,530.2 L999.0,533.4 L1000.0,536.6 L1001.0,540.0 L1002.0,543.4 L1003.0,546.9 L1004.0,550.5 L1005.0,554.2 L1006.0,558.0 L1007.0,561.8 L1008.0,565.7 L1009.0,569.7 L1010.0,573.7 L1011.0,577.7 L1012.0,581.8 L1013.0,585.8 L1014.0,589.9 L1015.0,594.0 L1016.0,598.2 L1017.0,602.3 L1018.0,606.4 L1019.0,610.5 L1020.0,614.7 L1021.0,618.8 L1022.0,622.9 L1023.0,627.0 L1024.0,631.1 L1025.0,635.1 L1026.0,639.2 L1027.0,643.2 L1028.0,647.2 L1029.0,651.2 L1030.0,655.1 L1031.0,659.0 L1032.0,662.9 L1033.0,666.7 L1034.0,670.5 L1035.0,674.2 L1036.0,677.9 L1037.0,681.6 L1038.0,685.2 L1039.0,688.7 L1040.0,692.2 L1041.0,695.7 L1042.0,699.1 L1043.0,702.4 L1044.0,705.7 L1045.0,708.9 L1046.0,712.1 L1047.0,715.2 L1048.0,718.2 L1049.0,721.1 L1050.0,723.9 L1051.0,726.6 L1052.0,729.1 L1053.0,731.6 L1054.0,733.9 L1055.0,736.1 L1056.0,738.1 L1057.0,740.1 L1058.0,741.8 L1059.0,743.5 L1060.0,744.9 L1061.0,746.3 L1062.0,747.4 L1063.0,748.4 L1064.0,749.3 L1065.0,749.9 L1066.0,750.4 L1067.0,750.7 L1068.0,750.9 L1069.0,750.8 L1070.0,750.5 L1071.0,750.1 L1072.0,749.4 L1073.0,748.5 L1074.0,747.4 L1075.0,746.2 L1076.0,744.7 L1077.0,743.0 L1078.0,741.1 L1079.0,739.0 L1080.0,736.8 L1081.0,734.3 L1082.0,731.7 L1083.0,729.0 L1084.0,726.1 L1085.0,723.0 L1086.0,719.8 L1087.0,716.4 L1088.0,713.0 L1089.0,709.3 L1090.0,705.6 L1091.0,701.8 L1092.0,697.8 L1093.0,693.7 L1094.0,689.6 L1095.0,685.3 L1096.0,681.0 L1097.0,676.6 L1098.0,672.2 L1099.0,667.6 L1100.0,663.1 L1101.0,658.5 L1102.0,653.9 L1103.0,649.2 L1104.0,644.6 L1105.0,639.9 L1106.0,635.2 L1107.0,630.6 L1108.0,626.0 L1109.0,621.4 L1110.0,616.8 L1111.0,612.3 L1112.0,607.8 L1113.0,603.4 L1114.0,599.0 L1115.0,594.7 L1116.0,590.5 L1117.0,586.3 L1118.0,582.2 L1119.0,578.2 L1120.0,574.3 L1121.0,570.5 L1122.0,566.8 L1123.0,563.1 L1124.0,559.5 L1125.0,556.1 L1126.0,552.7 L1127.0,549.4 L1128.0,546.3 L1129.0,543.2 L1130.0,540.2 L1131.0,537.3 L1132.0,534.6 L1133.0,531.9 L1134.0,529.4 L1135.0,526.9 L1136.0,524.6 L1137.0,522.4 L1138.0,520.3 L1139.0,518.4 L1140.0,516.5 L1141.0,514.8 L1142.0,513.2 L1143.0,511.7 L1144.0,510.4 L1145.0,509.1 L1146.0,507.9 L1147.0,506.8 L1148.0,505.8 L1149.0,504.9 L1150.0,504.0 L1151.0,503.3 L1152.0,502.5 L1153.0,501.9 L1154.0,501.3 L1155.0,500.8 L1156.0,500.3 L1157.0,499.9 L1158.0,499.5 L1159.0,499.1 L1160.0,498.8 L1161.0,498.5 L1162.0,498.2 L1163.0,497.9 L1164.0,497.6 L1165.0,497.4 L1166.0,497.1 L1167.0,496.9 L1168.0,496.7 L1169.0,496.5 L1170.0,496.3 L1171.0,496.1 L1172.0,495.9 L1173.0,495.7 L1174.0,495.6 L1175.0,495.4 L1176.0,495.3 L1177.0,495.2 L1178.0,495.0 L1179.0,494.9 L1180.0,494.8 L1181.0,494.7 L1182.0,494.6 L1183.0,494.5 L1184.0,494.5 L1185.0,494.4 L1186.0,494.3 L1187.0,494.3 L1188.0,494.2 L1189.0,494.2 L1190.0,494.2 L1191.0,494.1 L1192.0,494.1 L1193.0,494.1 L1194.0,494.1 L1195.0,494.1 L1196.0,494.1 L1197.0,494.1 L1198.0,494.1 L1199.0,494.1 L1200.0,494.2 L1201.0,494.2 L1202.0,494.2 L1203.0,494.2 L1204.0,494.3 L1205.0,494.3 L1206.0,494.4 L1207.0,494.4 L1208.0,494.5 L1209.0,494.5 L1210.0,494.6 L1211.0,494.6 L1212.0,494.7 L1213.0,494.8 L1214.0,494.8 L1215.0,494.9 L1216.0,495.0 L1217.0,495.1 L1218.0,495.1 L1219.0,495.2 L1220.0,495.3 L1221.0,495.4 L1222.0,495.4 L1223.0,495.5 L1224.0,495.6 L1225.0,495.7 L1226.0,495.7 L1226.3,495.8" fill="none" stroke="#29a360" stroke-width="5.0" stroke-linejoin="round" stroke-linecap="round"/>
<path d="M205.0,494.7 L206.0,494.7 L207.0,494.8 L208.0,494.9 L209.0,494.9 L210.0,495.0 L211.0,495.1 L212.0,495.1 L213.0,495.2 L214.0,495.2 L215.0,495.3 L216.0,495.3 L217.0,495.4 L218.0,495.4 L219.0,495.4 L220.0,495.4 L221.0,495.4 L222.0,495.4 L223.0,495.4 L224.0,495.4 L225.0,495.4 L226.0,495.4 L227.0,495.3 L228.0,495.3 L229.0,495.3 L230.0,495.2 L231.0,495.2 L232.0,495.1 L233.0,495.1 L234.0,495.0 L235.0,494.9 L236.0,494.9 L237.0,494.8 L238.0,494.7 L239.0,494.6 L240.0,494.5 L241.0,494.4 L242.0,494.3 L243.0,494.2 L244.0,494.1 L245.0,493.9 L246.0,493.8 L247.0,493.7 L248.0,493.5 L249.0,493.4 L250.0,493.3 L251.0,493.1 L252.0,492.9 L253.0,492.8 L254.0,492.6 L255.0,492.4 L256.0,492.3 L257.0,492.1 L258.0,491.9 L259.0,491.7 L260.0,491.5 L261.0,491.3 L262.0,491.1 L263.0,490.9 L264.0,490.6 L265.0,490.4 L266.0,490.2 L267.0,489.9 L268.0,489.7 L269.0,489.4 L270.0,489.1 L271.0,488.8 L272.0,488.5 L273.0,488.2 L274.0,487.8 L275.0,487.4 L276.0,487.0 L277.0,486.6 L278.0,486.2 L279.0,485.7 L280.0,485.2 L281.0,484.6 L282.0,484.1 L283.0,483.5 L284.0,482.9 L285.0,482.2 L286.0,481.5 L287.0,480.7 L288.0,480.0 L289.0,479.1 L290.0,478.3 L291.0,477.4 L292.0,476.4 L293.0,475.4 L294.0,474.4 L295.0,473.3 L296.0,472.1 L297.0,470.9 L298.0,469.6 L299.0,468.3 L300.0,466.8 L301.0,465.4 L302.0,463.8 L303.0,462.1 L304.0,460.4 L305.0,458.6 L306.0,456.7 L307.0,454.7 L308.0,452.6 L309.0,450.4 L310.0,448.1 L311.0,445.7 L312.0,443.2 L313.0,440.6 L314.0,437.8 L315.0,435.0 L316.0,432.0 L317.0,428.9 L318.0,425.7 L319.0,422.3 L320.0,418.8 L321.0,415.3 L322.0,411.6 L323.0,407.8 L324.0,403.9 L325.0,399.9 L326.0,395.8 L327.0,391.6 L328.0,387.3 L329.0,383.0 L330.0,378.6 L331.0,374.1 L332.0,369.6 L333.0,365.0 L334.0,360.3 L335.0,355.6 L336.0,350.9 L337.0,346.1 L338.0,341.4 L339.0,336.6 L340.0,331.8 L341.0,327.1 L342.0,322.3 L343.0,317.6 L344.0,313.0 L345.0,308.4 L346.0,303.8 L347.0,299.3 L348.0,294.9 L349.0,290.6 L350.0,286.4 L351.0,282.3 L352.0,278.4 L353.0,274.5 L354.0,270.8 L355.0,267.3 L356.0,263.9 L357.0,260.7 L358.0,257.6 L359.0,254.8 L360.0,252.1 L361.0,249.6 L362.0,247.4 L363.0,245.4 L364.0,243.6 L365.0,242.0 L366.0,240.7 L367.0,239.7 L368.0,238.9 L369.0,238.3 L370.0,238.0 L371.0,237.9 L372.0,238.1 L373.0,238.5 L374.0,239.1 L375.0,240.0 L376.0,241.0 L377.0,242.3 L378.0,243.8 L379.0,245.6 L380.0,247.5 L381.0,249.6 L382.0,251.9 L383.0,254.4 L384.0,257.0 L385.0,259.9 L386.0,262.9 L387.0,266.1 L388.0,269.4 L389.0,272.9 L390.0,276.5 L391.0,280.3 L392.0,284.2 L393.0,288.3 L394.0,292.4 L395.0,296.8 L396.0,301.2 L397.0,305.8 L398.0,310.4 L399.0,315.2 L400.0,320.1 L401.0,325.0 L402.0,330.1 L403.0,335.2 L404.0,340.3 L405.0,345.5 L406.0,350.8 L407.0,356.1 L408.0,361.4 L409.0,366.7 L410.0,372.0 L411.0,377.4 L412.0,382.7 L413.0,388.0 L414.0,393.3 L415.0,398.6 L416.0,403.8 L417.0,409.0 L418.0,414.2 L419.0,419.2 L420.0,424.3 L421.0,429.2 L422.0,434.1 L423.0,438.9 L424.0,443.6 L425.0,448.3 L426.0,452.8 L427.0,457.2 L428.0,461.6 L429.0,465.8 L430.0,469.9 L431.0,473.9 L432.0,477.8 L433.0,481.6 L434.0,485.3 L435.0,488.9 L436.0,492.5 L437.0,495.9 L438.0,499.2 L439.0,502.4 L440.0,505.5 L441.0,508.5 L442.0,511.3 L443.0,514.0 L444.0,516.6 L445.0,519.0 L446.0,521.3 L447.0,523.5 L448.0,525.5 L449.0,527.3 L450.0,529.1 L451.0,530.6 L452.0,532.1 L453.0,533.4 L454.0,534.6 L455.0,535.6 L456.0,536.5 L457.0,537.4 L458.0,538.1 L459.0,538.7 L460.0,539.2 L461.0,539.6 L462.0,539.9 L463.0,540.2 L464.0,540.3 L465.0,540.5 L466.0,540.5 L467.0,540.5 L468.0,540.4 L469.0,540.3 L470.0,540.2 L471.0,540.0 L472.0,539.8 L473.0,539.6 L474.0,539.3 L475.0,539.0 L476.0,538.7 L477.0,538.4 L478.0,538.1 L479.0,537.8 L480.0,537.4 L481.0,537.1 L482.0,536.7 L483.0,536.3 L484.0,536.0 L485.0,535.6 L486.0,535.3 L487.0,534.9 L488.0,534.5 L489.0,534.2 L490.0,533.8 L491.0,533.4 L492.0,533.1 L493.0,532.7 L494.0,532.3 L495.0,531.9 L496.0,531.6 L497.0,531.2 L498.0,530.8 L499.0,530.4 L500.0,530.0 L501.0,529.6 L502.0,529.2 L503.0,528.8 L504.0,528.4 L505.0,528.0 L506.0,527.6 L507.0,527.2 L508.0,526.8 L509.0,526.3 L510.0,525.9 L511.0,525.5 L512.0,525.0 L513.0,524.6 L514.0,524.2 L515.0,523.7 L516.0,523.2 L517.0,522.8 L518.0,522.3 L519.0,521.8 L520.0,521.4 L521.0,520.9 L522.0,520.4 L523.0,519.9 L524.0,519.4 L525.0,518.9 L526.0,518.4 L527.0,517.9 L528.0,517.4 L529.0,516.8 L530.0,516.3 L531.0,515.8 L532.0,515.2 L533.0,514.7 L534.0,514.2 L535.0,513.6 L536.0,513.1 L537.0,512.5 L538.0,512.0 L539.0,511.4 L540.0,510.8 L541.0,510.3 L542.0,509.7 L543.0,509.1 L544.0,508.5 L545.0,508.0 L546.0,507.4 L547.0,506.8 L548.0,506.2 L549.0,505.6 L550.0,505.0 L551.0,504.4 L552.0,503.8 L553.0,503.2 L554.0,502.6 L555.0,502.0 L556.0,501.4 L557.0,500.8 L558.0,500.1 L559.0,499.5 L560.0,498.9 L561.0,498.3 L562.0,497.7 L563.0,497.1 L564.0,496.5 L565.0,495.9 L566.0,495.3 L567.0,494.7 L568.0,494.2 L569.0,493.6 L570.0,493.0 L571.0,492.4 L572.0,491.9 L573.0,491.3 L574.0,490.8 L575.0,490.2 L576.0,489.7 L577.0,489.1 L578.0,488.6 L579.0,488.1 L580.0,487.6 L581.0,487.1 L582.0,486.6 L583.0,486.1 L584.0,485.6 L585.0,485.2 L586.0,484.7 L587.0,484.3 L588.0,483.9 L589.0,483.4 L590.0,483.0 L591.0,482.6 L592.0,482.3 L593.0,481.9 L594.0,481.5 L595.0,481.2 L596.0,480.9 L597.0,480.5 L598.0,480.2 L599.0,479.9 L600.0,479.7 L601.0,479.4 L602.0,479.1 L603.0,478.9 L604.0,478.6 L605.0,478.4 L606.0,478.2 L607.0,478.0 L608.0,477.8 L609.0,477.6 L610.0,477.5 L611.0,477.3 L612.0,477.2 L613.0,477.0 L614.0,476.9 L615.0,476.8 L616.0,476.7 L617.0,476.6 L618.0,476.5 L619.0,476.4 L620.0,476.4 L621.0,476.3 L622.0,476.3 L623.0,476.2 L624.0,476.2 L625.0,476.2 L626.0,476.1 L627.0,476.1 L628.0,476.1 L629.0,476.1 L630.0,476.1 L631.0,476.1 L632.0,476.2 L633.0,476.2 L634.0,476.2 L635.0,476.3 L636.0,476.3 L637.0,476.4 L638.0,476.4 L639.0,476.5 L640.0,476.5 L641.0,476.6 L642.0,476.7 L643.0,476.8 L644.0,476.8 L645.0,476.9 L646.0,477.0 L647.0,477.1 L648.0,477.2 L649.0,477.3 L650.0,477.4 L651.0,477.5 L652.0,477.6 L653.0,477.7 L654.0,477.8 L655.0,477.9 L656.0,478.1 L657.0,478.2 L658.0,478.3 L659.0,478.4 L660.0,478.5 L661.0,478.6 L662.0,478.8 L663.0,478.9 L664.0,479.0 L665.0,479.1 L666.0,479.2 L667.0,479.3 L668.0,479.5 L669.0,479.6 L670.0,479.7 L671.0,479.8 L672.0,479.9 L673.0,480.0 L674.0,480.2 L675.0,480.3 L676.0,480.4 L677.0,480.5 L678.0,480.6 L679.0,480.7 L680.0,480.8 L681.0,480.9 L682.0,481.0 L683.0,481.1 L684.0,481.2 L685.0,481.3 L686.0,481.4 L687.0,481.4 L688.0,481.5 L689.0,481.6 L690.0,481.7 L691.0,481.7 L692.0,481.8 L693.0,481.9 L694.0,481.9 L695.0,482.0 L696.0,482.0 L697.0,482.0 L698.0,482.1 L699.0,482.1 L700.0,482.1 L701.0,482.2 L702.0,482.2 L703.0,482.2 L704.0,482.2 L705.0,482.2 L706.0,482.2 L707.0,482.2 L708.0,482.1 L709.0,482.1 L710.0,482.1 L711.0,482.1 L712.0,482.0 L713.0,482.0 L714.0,481.9 L715.0,481.9 L716.0,481.8 L717.0,481.7 L718.0,481.6 L719.0,481.6 L720.0,481.5 L721.0,481.4 L722.0,481.3 L723.0,481.2 L724.0,481.0 L725.0,480.9 L726.0,480.8 L727.0,480.7 L728.0,480.5 L729.0,480.4 L730.0,480.2 L731.0,480.1 L732.0,479.9 L733.0,479.7 L734.0,479.5 L735.0,479.4 L736.0,479.2 L737.0,479.0 L738.0,478.8 L739.0,478.6 L740.0,478.3 L741.0,478.1 L742.0,477.9 L743.0,477.7 L744.0,477.4 L745.0,477.2 L746.0,476.9 L747.0,476.7 L748.0,476.4 L749.0,476.2 L750.0,475.9 L751.0,475.6 L752.0,475.3 L753.0,475.1 L754.0,474.8 L755.0,474.5 L756.0,474.2 L757.0,473.9 L758.0,473.6 L759.0,473.3 L760.0,473.0 L761.0,472.6 L762.0,472.3 L763.0,472.0 L764.0,471.7 L765.0,471.3 L766.0,471.0 L767.0,470.7 L768.0,470.4 L769.0,470.0 L770.0,469.7 L771.0,469.4 L772.0,469.1 L773.0,468.8 L774.0,468.5 L775.0,468.2 L776.0,467.9 L777.0,467.7 L778.0,467.4 L779.0,467.1 L780.0,466.9 L781.0,466.7 L782.0,466.5 L783.0,466.3 L784.0,466.1 L785.0,465.9 L786.0,465.8 L787.0,465.6 L788.0,465.5 L789.0,465.4 L790.0,465.4 L791.0,465.3 L792.0,465.3 L793.0,465.2 L794.0,465.2 L795.0,465.3 L796.0,465.3 L797.0,465.4 L798.0,465.4 L799.0,465.5 L800.0,465.6 L801.0,465.7 L802.0,465.8 L803.0,465.9 L804.0,466.1 L805.0,466.2 L806.0,466.4 L807.0,466.5 L808.0,466.7 L809.0,466.8 L810.0,467.0 L811.0,467.2 L812.0,467.4 L813.0,467.5 L814.0,467.7 L815.0,467.9 L816.0,468.1 L817.0,468.3 L818.0,468.4 L819.0,468.6 L820.0,468.8 L821.0,468.9 L822.0,469.1 L823.0,469.3 L824.0,469.4 L825.0,469.6 L826.0,469.7 L827.0,469.8 L828.0,470.0 L829.0,470.1 L830.0,470.2 L831.0,470.3 L832.0,470.4 L833.0,470.5 L834.0,470.5 L835.0,470.6 L836.0,470.6 L837.0,470.7 L838.0,470.7 L839.0,470.7 L840.0,470.7 L841.0,470.6 L842.0,470.6 L843.0,470.5 L844.0,470.4 L845.0,470.3 L846.0,470.2 L847.0,470.1 L848.0,469.9 L849.0,469.7 L850.0,469.5 L851.0,469.3 L852.0,469.1 L853.0,468.8 L854.0,468.5 L855.0,468.2 L856.0,467.9 L857.0,467.6 L858.0,467.3 L859.0,466.9 L860.0,466.6 L861.0,466.2 L862.0,465.8 L863.0,465.4 L864.0,465.0 L865.0,464.6 L866.0,464.2 L867.0,463.7 L868.0,463.3 L869.0,462.8 L870.0,462.4 L871.0,461.9 L872.0,461.5 L873.0,461.0 L874.0,460.6 L875.0,460.1 L876.0,459.6 L877.0,459.2 L878.0,458.7 L879.0,458.2 L880.0,457.8 L881.0,457.3 L882.0,456.9 L883.0,456.4 L884.0,456.0 L885.0,455.5 L886.0,455.1 L887.0,454.7 L888.0,454.3 L889.0,453.9 L890.0,453.5 L891.0,453.1 L892.0,452.7 L893.0,452.4 L894.0,452.0 L895.0,451.7 L896.0,451.3 L897.0,451.0 L898.0,450.7 L899.0,450.4 L900.0,450.1 L901.0,449.8 L902.0,449.5 L903.0,449.2 L904.0,449.0 L905.0,448.8 L906.0,448.5 L907.0,448.3 L908.0,448.1 L909.0,448.0 L910.0,447.8 L911.0,447.7 L912.0,447.5 L913.0,447.4 L914.0,447.3 L915.0,447.2 L916.0,447.2 L917.0,447.1 L918.0,447.1 L919.0,447.1 L920.0,447.1 L921.0,447.1 L922.0,447.1 L923.0,447.2 L924.0,447.2 L925.0,447.3 L926.0,447.4 L927.0,447.5 L928.0,447.7 L929.0,447.8 L930.0,448.0 L931.0,448.2 L932.0,448.4 L933.0,448.6 L934.0,448.9 L935.0,449.1 L936.0,449.4 L937.0,449.7 L938.0,450.0 L939.0,450.4 L940.0,450.7 L941.0,451.1 L942.0,451.5 L943.0,451.9 L944.0,452.3 L945.0,452.7 L946.0,453.2 L947.0,453.6 L948.0,454.1 L949.0,454.6 L950.0,455.2 L951.0,455.7 L952.0,456.3 L953.0,456.8 L954.0,457.4 L955.0,458.0 L956.0,458.6 L957.0,459.2 L958.0,459.8 L959.0,460.5 L960.0,461.1 L961.0,461.8 L962.0,462.5 L963.0,463.1 L964.0,463.8 L965.0,464.6 L966.0,465.3 L967.0,466.1 L968.0,466.9 L969.0,467.7 L970.0,468.6 L971.0,469.5 L972.0,470.4 L973.0,471.5 L974.0,472.5 L975.0,473.6 L976.0,474.8 L977.0,476.1 L978.0,477.4 L979.0,478.8 L980.0,480.2 L981.0,481.8 L982.0,483.4 L983.0,485.2 L984.0,487.0 L985.0,488.9 L986.0,491.0 L987.0,493.1 L988.0,495.3 L989.0,497.6 L990.0,500.0 L991.0,502.6 L992.0,505.2 L993.0,507.9 L994.0,510.7 L995.0,513.7 L996.0,516.7 L997.0,519.8 L998.0,523.0 L999.0,526.3 L1000.0,529.6 L1001.0,533.1 L1002.0,536.6 L1003.0,540.2 L1004.0,543.8 L1005.0,547.4 L1006.0,551.2 L1007.0,554.9 L1008.0,558.7 L1009.0,562.6 L1010.0,566.5 L1011.0,570.5 L1012.0,574.5 L1013.0,578.6 L1014.0,582.7 L1015.0,586.9 L1016.0,591.1 L1017.0,595.3 L1018.0,599.7 L1019.0,604.0 L1020.0,608.4 L1021.0,612.8 L1022.0,617.2 L1023.0,621.7 L1024.0,626.2 L1025.0,630.7 L1026.0,635.2 L1027.0,639.7 L1028.0,644.3 L1029.0,648.8 L1030.0,653.4 L1031.0,657.9 L1032.0,662.4 L1033.0,666.9 L1034.0,671.3 L1035.0,675.8 L1036.0,680.2 L1037.0,684.5 L1038.0,688.8 L1039.0,693.0 L1040.0,697.1 L1041.0,701.2 L1042.0,705.2 L1043.0,709.1 L1044.0,712.9 L1045.0,716.6 L1046.0,720.2 L1047.0,723.7 L1048.0,727.1 L1049.0,730.3 L1050.0,733.5 L1051.0,736.6 L1052.0,739.5 L1053.0,742.3 L1054.0,745.0 L1055.0,747.6 L1056.0,750.1 L1057.0,752.4 L1058.0,754.5 L1059.0,756.5 L1060.0,758.4 L1061.0,760.1 L1062.0,761.7 L1063.0,763.0 L1064.0,764.2 L1065.0,765.3 L1066.0,766.1 L1067.0,766.8 L1068.0,767.3 L1069.0,767.6 L1070.0,767.7 L1071.0,767.5 L1072.0,767.2 L1073.0,766.7 L1074.0,765.9 L1075.0,765.0 L1076.0,763.8 L1077.0,762.4 L1078.0,760.7 L1079.0,758.9 L1080.0,756.8 L1081.0,754.6 L1082.0,752.1 L1083.0,749.5 L1084.0,746.7 L1085.0,743.7 L1086.0,740.6 L1087.0,737.3 L1088.0,733.9 L1089.0,730.3 L1090.0,726.5 L1091.0,722.6 L1092.0,718.6 L1093.0,714.5 L1094.0,710.3 L1095.0,705.9 L1096.0,701.5 L1097.0,696.9 L1098.0,692.3 L1099.0,687.6 L1100.0,682.8 L1101.0,678.0 L1102.0,673.2 L1103.0,668.3 L1104.0,663.3 L1105.0,658.4 L1106.0,653.4 L1107.0,648.4 L1108.0,643.5 L1109.0,638.5 L1110.0,633.6 L1111.0,628.7 L1112.0,623.8 L1113.0,619.0 L1114.0,614.3 L1115.0,609.6 L1116.0,604.9 L1117.0,600.3 L1118.0,595.8 L1119.0,591.4 L1120.0,587.1 L1121.0,582.9 L1122.0,578.7 L1123.0,574.7 L1124.0,570.7 L1125.0,566.8 L1126.0,563.0 L1127.0,559.4 L1128.0,555.8 L1129.0,552.3 L1130.0,549.0 L1131.0,545.7 L1132.0,542.6 L1133.0,539.5 L1134.0,536.6 L1135.0,533.8 L1136.0,531.1 L1137.0,528.6 L1138.0,526.1 L1139.0,523.8 L1140.0,521.6 L1141.0,519.5 L1142.0,517.6 L1143.0,515.8 L1144.0,514.1 L1145.0,512.6 L1146.0,511.1 L1147.0,509.8 L1148.0,508.5 L1149.0,507.4 L1150.0,506.3 L1151.0,505.3 L1152.0,504.5 L1153.0,503.7 L1154.0,502.9 L1155.0,502.2 L1156.0,501.6 L1157.0,501.1 L1158.0,500.6 L1159.0,500.1 L1160.0,499.7 L1161.0,499.3 L1162.0,499.0 L1163.0,498.6 L1164.0,498.3 L1165.0,498.1 L1166.0,497.8 L1167.0,497.5 L1168.0,497.3 L1169.0,497.0 L1170.0,496.8 L1171.0,496.6 L1172.0,496.3 L1173.0,496.1 L1174.0,496.0 L1175.0,495.8 L1176.0,495.6 L1177.0,495.4 L1178.0,495.3 L1179.0,495.2 L1180.0,495.0 L1181.0,494.9 L1182.0,494.8 L1183.0,494.7 L1184.0,494.6 L1185.0,494.5 L1186.0,494.4 L1187.0,494.4 L1188.0,494.3 L1189.0,494.2 L1190.0,494.2 L1191.0,494.2 L1192.0,494.1 L1193.0,494.1 L1194.0,494.1 L1195.0,494.1 L1196.0,494.1 L1197.0,494.1 L1198.0,494.1 L1199.0,494.1 L1200.0,494.1 L1201.0,494.1 L1202.0,494.1 L1203.0,494.2 L1204.0,494.2 L1205.0,494.2 L1206.0,494.3 L1207.0,494.3 L1208.0,494.4 L1209.0,494.4 L1210.0,494.5 L1211.0,494.5 L1212.0,494.6 L1213.0,494.7 L1214.0,494.7 L1215.0,494.8 L1216.0,494.9 L1217.0,494.9 L1218.0,495.0 L1219.0,495.1 L1220.0,495.2 L1221.0,495.3 L1222.0,495.3 L1223.0,495.4 L1224.0,495.5 L1225.0,495.6 L1226.0,495.7 L1226.3,495.7" fill="none" stroke="#b265e2" stroke-width="5.0" stroke-linejoin="round" stroke-linecap="round"/>
<path d="M205.0,494.7 L206.0,494.8 L207.0,494.8 L208.0,494.9 L209.0,495.0 L210.0,495.1 L211.0,495.1 L212.0,495.2 L213.0,495.2 L214.0,495.3 L215.0,495.3 L216.0,495.3 L217.0,495.4 L218.0,495.4 L219.0,495.4 L220.0,495.4 L221.0,495.4 L222.0,495.4 L223.0,495.4 L224.0,495.4 L225.0,495.4 L226.0,495.4 L227.0,495.3 L228.0,495.3 L229.0,495.2 L230.0,495.2 L231.0,495.1 L232.0,495.1 L233.0,495.0 L234.0,495.0 L235.0,494.9 L236.0,494.8 L237.0,494.7 L238.0,494.6 L239.0,494.5 L240.0,494.4 L241.0,494.3 L242.0,494.2 L243.0,494.1 L244.0,494.0 L245.0,493.9 L246.0,493.7 L247.0,493.6 L248.0,493.4 L249.0,493.3 L250.0,493.1 L251.0,493.0 L252.0,492.8 L253.0,492.7 L254.0,492.5 L255.0,492.3 L256.0,492.1 L257.0,491.9 L258.0,491.7 L259.0,491.5 L260.0,491.3 L261.0,491.1 L262.0,490.9 L263.0,490.7 L264.0,490.5 L265.0,490.3 L266.0,490.0 L267.0,489.8 L268.0,489.5 L269.0,489.2 L270.0,488.9 L271.0,488.6 L272.0,488.3 L273.0,487.9 L274.0,487.5 L275.0,487.2 L276.0,486.7 L277.0,486.3 L278.0,485.8 L279.0,485.3 L280.0,484.8 L281.0,484.3 L282.0,483.7 L283.0,483.0 L284.0,482.4 L285.0,481.7 L286.0,481.0 L287.0,480.2 L288.0,479.4 L289.0,478.5 L290.0,477.7 L291.0,476.7 L292.0,475.7 L293.0,474.7 L294.0,473.6 L295.0,472.5 L296.0,471.3 L297.0,470.0 L298.0,468.7 L299.0,467.3 L300.0,465.8 L301.0,464.3 L302.0,462.6 L303.0,460.9 L304.0,459.1 L305.0,457.3 L306.0,455.3 L307.0,453.2 L308.0,451.1 L309.0,448.8 L310.0,446.4 L311.0,444.0 L312.0,441.4 L313.0,438.7 L314.0,435.9 L315.0,432.9 L316.0,429.9 L317.0,426.7 L318.0,423.3 L319.0,419.9 L320.0,416.4 L321.0,412.7 L322.0,408.9 L323.0,405.1 L324.0,401.1 L325.0,397.0 L326.0,392.9 L327.0,388.7 L328.0,384.4 L329.0,380.0 L330.0,375.6 L331.0,371.1 L332.0,366.5 L333.0,361.9 L334.0,357.3 L335.0,352.6 L336.0,347.9 L337.0,343.2 L338.0,338.5 L339.0,333.8 L340.0,329.1 L341.0,324.5 L342.0,319.9 L343.0,315.4 L344.0,310.9 L345.0,306.5 L346.0,302.1 L347.0,297.9 L348.0,293.7 L349.0,289.7 L350.0,285.8 L351.0,282.0 L352.0,278.4 L353.0,274.9 L354.0,271.6 L355.0,268.4 L356.0,265.4 L357.0,262.5 L358.0,259.9 L359.0,257.4 L360.0,255.1 L361.0,253.0 L362.0,251.1 L363.0,249.5 L364.0,248.0 L365.0,246.8 L366.0,245.8 L367.0,245.0 L368.0,244.4 L369.0,244.1 L370.0,243.9 L371.0,244.0 L372.0,244.3 L373.0,244.7 L374.0,245.4 L375.0,246.3 L376.0,247.4 L377.0,248.6 L378.0,250.1 L379.0,251.7 L380.0,253.6 L381.0,255.6 L382.0,257.7 L383.0,260.1 L384.0,262.6 L385.0,265.3 L386.0,268.2 L387.0,271.2 L388.0,274.4 L389.0,277.8 L390.0,281.3 L391.0,285.0 L392.0,288.8 L393.0,292.7 L394.0,296.8 L395.0,301.1 L396.0,305.5 L397.0,310.0 L398.0,314.6 L399.0,319.3 L400.0,324.2 L401.0,329.1 L402.0,334.1 L403.0,339.1 L404.0,344.3 L405.0,349.5 L406.0,354.7 L407.0,359.9 L408.0,365.2 L409.0,370.5 L410.0,375.9 L411.0,381.2 L412.0,386.5 L413.0,391.8 L414.0,397.0 L415.0,402.3 L416.0,407.5 L417.0,412.6 L418.0,417.7 L419.0,422.8 L420.0,427.8 L421.0,432.7 L422.0,437.5 L423.0,442.2 L424.0,446.9 L425.0,451.5 L426.0,455.9 L427.0,460.3 L428.0,464.5 L429.0,468.7 L430.0,472.7 L431.0,476.6 L432.0,480.4 L433.0,484.1 L434.0,487.7 L435.0,491.2 L436.0,494.5 L437.0,497.8 L438.0,500.9 L439.0,504.0 L440.0,506.9 L441.0,509.7 L442.0,512.3 L443.0,514.9 L444.0,517.3 L445.0,519.6 L446.0,521.8 L447.0,523.9 L448.0,525.8 L449.0,527.6 L450.0,529.3 L451.0,530.9 L452.0,532.4 L453.0,533.7 L454.0,534.9 L455.0,536.0 L456.0,537.0 L457.0,537.9 L458.0,538.7 L459.0,539.5 L460.0,540.1 L461.0,540.6 L462.0,541.1 L463.0,541.5 L464.0,541.8 L465.0,542.0 L466.0,542.2 L467.0,542.3 L468.0,542.4 L469.0,542.4 L470.0,542.3 L471.0,542.3 L472.0,542.1 L473.0,542.0 L474.0,541.8 L475.0,541.6 L476.0,541.3 L477.0,541.1 L478.0,540.8 L479.0,540.5 L480.0,540.1 L481.0,539.8 L482.0,539.5 L483.0,539.1 L484.0,538.8 L485.0,538.4 L486.0,538.1 L487.0,537.7 L488.0,537.4 L489.0,537.0 L490.0,536.6 L491.0,536.3 L492.0,535.9 L493.0,535.5 L494.0,535.1 L495.0,534.8 L496.0,534.4 L497.0,534.0 L498.0,533.6 L499.0,533.2 L500.0,532.8 L501.0,532.4 L502.0,532.0 L503.0,531.6 L504.0,531.1 L505.0,530.7 L506.0,530.3 L507.0,529.9 L508.0,529.4 L509.0,529.0 L510.0,528.6 L511.0,528.1 L512.0,527.7 L513.0,527.2 L514.0,526.7 L515.0,526.3 L516.0,525.8 L517.0,525.3 L518.0,524.9 L519.0,524.4 L520.0,523.9 L521.0,523.4 L522.0,522.9 L523.0,522.4 L524.0,521.9 L525.0,521.4 L526.0,520.9 L527.0,520.3 L528.0,519.8 L529.0,519.3 L530.0,518.7 L531.0,518.2 L532.0,517.7 L533.0,517.1 L534.0,516.6 L535.0,516.0 L536.0,515.5 L537.0,514.9 L538.0,514.3 L539.0,513.7 L540.0,513.2 L541.0,512.6 L542.0,512.0 L543.0,511.4 L544.0,510.8 L545.0,510.2 L546.0,509.6 L547.0,509.0 L548.0,508.4 L549.0,507.8 L550.0,507.1 L551.0,506.5 L552.0,505.9 L553.0,505.2 L554.0,504.6 L555.0,504.0 L556.0,503.3 L557.0,502.7 L558.0,502.1 L559.0,501.4 L560.0,500.8 L561.0,500.1 L562.0,499.5 L563.0,498.8 L564.0,498.2 L565.0,497.6 L566.0,496.9 L567.0,496.3 L568.0,495.7 L569.0,495.0 L570.0,494.4 L571.0,493.8 L572.0,493.2 L573.0,492.6 L574.0,492.0 L575.0,491.4 L576.0,490.8 L577.0,490.2 L578.0,489.7 L579.0,489.1 L580.0,488.5 L581.0,488.0 L582.0,487.5 L583.0,486.9 L584.0,486.4 L585.0,485.9 L586.0,485.4 L587.0,484.9 L588.0,484.4 L589.0,484.0 L590.0,483.5 L591.0,483.1 L592.0,482.7 L593.0,482.2 L594.0,481.8 L595.0,481.5 L596.0,481.1 L597.0,480.7 L598.0,480.4 L599.0,480.0 L600.0,479.7 L601.0,479.4 L602.0,479.1 L603.0,478.8 L604.0,478.6 L605.0,478.3 L606.0,478.1 L607.0,477.8 L608.0,477.6 L609.0,477.4 L610.0,477.2 L611.0,477.0 L612.0,476.8 L613.0,476.7 L614.0,476.5 L615.0,476.4 L616.0,476.2 L617.0,476.1 L618.0,476.0 L619.0,475.9 L620.0,475.8 L621.0,475.7 L622.0,475.6 L623.0,475.5 L624.0,475.4 L625.0,475.4 L626.0,475.3 L627.0,475.3 L628.0,475.3 L629.0,475.2 L630.0,475.2 L631.0,475.2 L632.0,475.2 L633.0,475.2 L634.0,475.2 L635.0,475.2 L636.0,475.2 L637.0,475.3 L638.0,475.3 L639.0,475.3 L640.0,475.4 L641.0,475.4 L642.0,475.5 L643.0,475.5 L644.0,475.6 L645.0,475.7 L646.0,475.7 L647.0,475.8 L648.0,475.9 L649.0,476.0 L650.0,476.1 L651.0,476.2 L652.0,476.3 L653.0,476.3 L654.0,476.4 L655.0,476.5 L656.0,476.7 L657.0,476.8 L658.0,476.9 L659.0,477.0 L660.0,477.1 L661.0,477.2 L662.0,477.3 L663.0,477.4 L664.0,477.5 L665.0,477.7 L666.0,477.8 L667.0,477.9 L668.0,478.0 L669.0,478.1 L670.0,478.3 L671.0,478.4 L672.0,478.5 L673.0,478.6 L674.0,478.7 L675.0,478.8 L676.0,479.0 L677.0,479.1 L678.0,479.2 L679.0,479.3 L680.0,479.4 L681.0,479.5 L682.0,479.6 L683.0,479.7 L684.0,479.8 L685.0,479.9 L686.0,480.0 L687.0,480.1 L688.0,480.2 L689.0,480.3 L690.0,480.3 L691.0,480.4 L692.0,480.5 L693.0,480.6 L694.0,480.6 L695.0,480.7 L696.0,480.7 L697.0,480.8 L698.0,480.8 L699.0,480.9 L700.0,480.9 L701.0,480.9 L702.0,481.0 L703.0,481.0 L704.0,481.0 L705.0,481.0 L706.0,481.0 L707.0,481.0 L708.0,481.0 L709.0,481.0 L710.0,481.0 L711.0,480.9 L712.0,480.9 L713.0,480.9 L714.0,480.8 L715.0,480.8 L716.0,480.7 L717.0,480.7 L718.0,480.6 L719.0,480.5 L720.0,480.5 L721.0,480.4 L722.0,480.3 L723.0,480.2 L724.0,480.1 L725.0,480.0 L726.0,479.9 L727.0,479.8 L728.0,479.6 L729.0,479.5 L730.0,479.4 L731.0,479.2 L732.0,479.1 L733.0,478.9 L734.0,478.7 L735.0,478.6 L736.0,478.4 L737.0,478.2 L738.0,478.0 L739.0,477.8 L740.0,477.6 L741.0,477.4 L742.0,477.2 L743.0,477.0 L744.0,476.7 L745.0,476.5 L746.0,476.3 L747.0,476.0 L748.0,475.8 L749.0,475.5 L750.0,475.2 L751.0,474.9 L752.0,474.7 L753.0,474.4 L754.0,474.1 L755.0,473.8 L756.0,473.5 L757.0,473.2 L758.0,472.8 L759.0,472.5 L760.0,472.2 L761.0,471.8 L762.0,471.5 L763.0,471.1 L764.0,470.8 L765.0,470.4 L766.0,470.1 L767.0,469.7 L768.0,469.4 L769.0,469.0 L770.0,468.6 L771.0,468.3 L772.0,467.9 L773.0,467.6 L774.0,467.3 L775.0,466.9 L776.0,466.6 L777.0,466.3 L778.0,466.0 L779.0,465.7 L780.0,465.4 L781.0,465.1 L782.0,464.9 L783.0,464.7 L784.0,464.4 L785.0,464.2 L786.0,464.0 L787.0,463.9 L788.0,463.7 L789.0,463.6 L790.0,463.5 L791.0,463.4 L792.0,463.3 L793.0,463.3 L794.0,463.3 L795.0,463.3 L796.0,463.3 L797.0,463.3 L798.0,463.4 L799.0,463.4 L800.0,463.5 L801.0,463.6 L802.0,463.7 L803.0,463.8 L804.0,463.9 L805.0,464.1 L806.0,464.2 L807.0,464.3 L808.0,464.5 L809.0,464.7 L810.0,464.8 L811.0,465.0 L812.0,465.2 L813.0,465.3 L814.0,465.5 L815.0,465.7 L816.0,465.8 L817.0,466.0 L818.0,466.2 L819.0,466.4 L820.0,466.5 L821.0,466.7 L822.0,466.9 L823.0,467.0 L824.0,467.2 L825.0,467.3 L826.0,467.5 L827.0,467.6 L828.0,467.7 L829.0,467.8 L830.0,468.0 L831.0,468.1 L832.0,468.2 L833.0,468.2 L834.0,468.3 L835.0,468.4 L836.0,468.4 L837.0,468.5 L838.0,468.5 L839.0,468.5 L840.0,468.5 L841.0,468.5 L842.0,468.4 L843.0,468.4 L844.0,468.3 L845.0,468.2 L846.0,468.1 L847.0,468.0 L848.0,467.9 L849.0,467.7 L850.0,467.5 L851.0,467.3 L852.0,467.1 L853.0,466.8 L854.0,466.6 L855.0,466.3 L856.0,466.0 L857.0,465.7 L858.0,465.4 L859.0,465.0 L860.0,464.7 L861.0,464.3 L862.0,464.0 L863.0,463.6 L864.0,463.2 L865.0,462.8 L866.0,462.4 L867.0,462.0 L868.0,461.5 L869.0,461.1 L870.0,460.7 L871.0,460.2 L872.0,459.8 L873.0,459.3 L874.0,458.9 L875.0,458.4 L876.0,458.0 L877.0,457.5 L878.0,457.0 L879.0,456.6 L880.0,456.1 L881.0,455.7 L882.0,455.3 L883.0,454.8 L884.0,454.4 L885.0,454.0 L886.0,453.5 L887.0,453.1 L888.0,452.7 L889.0,452.3 L890.0,451.9 L891.0,451.6 L892.0,451.2 L893.0,450.9 L894.0,450.5 L895.0,450.2 L896.0,449.9 L897.0,449.6 L898.0,449.3 L899.0,449.0 L900.0,448.7 L901.0,448.5 L902.0,448.2 L903.0,448.0 L904.0,447.8 L905.0,447.6 L906.0,447.4 L907.0,447.3 L908.0,447.1 L909.0,447.0 L910.0,446.9 L911.0,446.8 L912.0,446.7 L913.0,446.6 L914.0,446.6 L915.0,446.5 L916.0,446.5 L917.0,446.5 L918.0,446.5 L919.0,446.6 L920.0,446.6 L921.0,446.7 L922.0,446.8 L923.0,446.9 L924.0,447.1 L925.0,447.2 L926.0,447.4 L927.0,447.6 L928.0,447.8 L929.0,448.1 L930.0,448.3 L931.0,448.6 L932.0,448.9 L933.0,449.2 L934.0,449.6 L935.0,449.9 L936.0,450.3 L937.0,450.7 L938.0,451.1 L939.0,451.5 L940.0,452.0 L941.0,452.4 L942.0,452.9 L943.0,453.4 L944.0,453.9 L945.0,454.4 L946.0,454.9 L947.0,455.4 L948.0,456.0 L949.0,456.5 L950.0,457.1 L951.0,457.7 L952.0,458.3 L953.0,458.9 L954.0,459.6 L955.0,460.2 L956.0,460.9 L957.0,461.6 L958.0,462.2 L959.0,462.9 L960.0,463.6 L961.0,464.4 L962.0,465.1 L963.0,465.9 L964.0,466.7 L965.0,467.5 L966.0,468.4 L967.0,469.3 L968.0,470.3 L969.0,471.2 L970.0,472.3 L971.0,473.4 L972.0,474.5 L973.0,475.7 L974.0,477.0 L975.0,478.3 L976.0,479.7 L977.0,481.2 L978.0,482.7 L979.0,484.3 L980.0,486.0 L981.0,487.7 L982.0,489.5 L983.0,491.3 L984.0,493.3 L985.0,495.3 L986.0,497.3 L987.0,499.5 L988.0,501.7 L989.0,504.0 L990.0,506.4 L991.0,508.9 L992.0,511.5 L993.0,514.2 L994.0,517.0 L995.0,519.9 L996.0,522.9 L997.0,525.9 L998.0,529.1 L999.0,532.3 L1000.0,535.6 L1001.0,539.0 L1002.0,542.5 L1003.0,546.1 L1004.0,549.7 L1005.0,553.4 L1006.0,557.2 L1007.0,561.1 L1008.0,564.9 L1009.0,568.9 L1010.0,572.9 L1011.0,576.9 L1012.0,581.0 L1013.0,585.0 L1014.0,589.2 L1015.0,593.3 L1016.0,597.4 L1017.0,601.6 L1018.0,605.8 L1019.0,610.0 L1020.0,614.1 L1021.0,618.3 L1022.0,622.5 L1023.0,626.7 L1024.0,630.9 L1025.0,635.0 L1026.0,639.2 L1027.0,643.3 L1028.0,647.5 L1029.0,651.6 L1030.0,655.6 L1031.0,659.7 L1032.0,663.7 L1033.0,667.7 L1034.0,671.6 L1035.0,675.5 L1036.0,679.3 L1037.0,683.1 L1038.0,686.9 L1039.0,690.6 L1040.0,694.2 L1041.0,697.8 L1042.0,701.3 L1043.0,704.8 L1044.0,708.1 L1045.0,711.5 L1046.0,714.7 L1047.0,717.9 L1048.0,720.9 L1049.0,723.9 L1050.0,726.7 L1051.0,729.5 L1052.0,732.1 L1053.0,734.6 L1054.0,737.0 L1055.0,739.2 L1056.0,741.3 L1057.0,743.3 L1058.0,745.2 L1059.0,746.8 L1060.0,748.4 L1061.0,749.7 L1062.0,751.0 L1063.0,752.0 L1064.0,752.9 L1065.0,753.6 L1066.0,754.1 L1067.0,754.5 L1068.0,754.6 L1069.0,754.6 L1070.0,754.4 L1071.0,754.0 L1072.0,753.3 L1073.0,752.5 L1074.0,751.4 L1075.0,750.2 L1076.0,748.7 L1077.0,747.0 L1078.0,745.1 L1079.0,743.1 L1080.0,740.8 L1081.0,738.4 L1082.0,735.8 L1083.0,733.0 L1084.0,730.1 L1085.0,727.0 L1086.0,723.8 L1087.0,720.4 L1088.0,716.9 L1089.0,713.3 L1090.0,709.5 L1091.0,705.6 L1092.0,701.6 L1093.0,697.5 L1094.0,693.3 L1095.0,689.0 L1096.0,684.7 L1097.0,680.2 L1098.0,675.7 L1099.0,671.1 L1100.0,666.5 L1101.0,661.9 L1102.0,657.2 L1103.0,652.5 L1104.0,647.7 L1105.0,643.0 L1106.0,638.3 L1107.0,633.6 L1108.0,628.9 L1109.0,624.2 L1110.0,619.5 L1111.0,614.9 L1112.0,610.4 L1113.0,605.9 L1114.0,601.4 L1115.0,597.0 L1116.0,592.7 L1117.0,588.5 L1118.0,584.3 L1119.0,580.3 L1120.0,576.3 L1121.0,572.4 L1122.0,568.6 L1123.0,564.9 L1124.0,561.2 L1125.0,557.7 L1126.0,554.2 L1127.0,550.9 L1128.0,547.7 L1129.0,544.5 L1130.0,541.5 L1131.0,538.5 L1132.0,535.7 L1133.0,533.0 L1134.0,530.4 L1135.0,527.9 L1136.0,525.5 L1137.0,523.3 L1138.0,521.1 L1139.0,519.1 L1140.0,517.2 L1141.0,515.5 L1142.0,513.8 L1143.0,512.3 L1144.0,510.9 L1145.0,509.5 L1146.0,508.3 L1147.0,507.2 L1148.0,506.2 L1149.0,505.2 L1150.0,504.3 L1151.0,503.5 L1152.0,502.8 L1153.0,502.1 L1154.0,501.5 L1155.0,501.0 L1156.0,500.5 L1157.0,500.0 L1158.0,499.6 L1159.0,499.2 L1160.0,498.9 L1161.0,498.6 L1162.0,498.3 L1163.0,498.0 L1164.0,497.7 L1165.0,497.5 L1166.0,497.2 L1167.0,497.0 L1168.0,496.8 L1169.0,496.6 L1170.0,496.3 L1171.0,496.2 L1172.0,496.0 L1173.0,495.8 L1174.0,495.6 L1175.0,495.5 L1176.0,495.3 L1177.0,495.2 L1178.0,495.1 L1179.0,494.9 L1180.0,494.8 L1181.0,494.7 L1182.0,494.6 L1183.0,494.6 L1184.0,494.5 L1185.0,494.4 L1186.0,494.3 L1187.0,494.3 L1188.0,494.2 L1189.0,494.2 L1190.0,494.2 L1191.0,494.1 L1192.0,494.1 L1193.0,494.1 L1194.0,494.1 L1195.0,494.1 L1196.0,494.1 L1197.0,494.1 L1198.0,494.1 L1199.0,494.1 L1200.0,494.1 L1201.0,494.2 L1202.0,494.2 L1203.0,494.2 L1204.0,494.3 L1205.0,494.3 L1206.0,494.4 L1207.0,494.4 L1208.0,494.5 L1209.0,494.5 L1210.0,494.6 L1211.0,494.6 L1212.0,494.7 L1213.0,494.8 L1214.0,494.8 L1215.0,494.9 L1216.0,495.0 L1217.0,495.0 L1218.0,495.1 L1219.0,495.2 L1220.0,495.3 L1221.0,495.3 L1222.0,495.4 L1223.0,495.5 L1224.0,495.6 L1225.0,495.7 L1226.0,495.7 L1226.3,495.8" fill="none" stroke="#cc980e" stroke-width="5.0" stroke-linejoin="round" stroke-linecap="round"/>
<path d="M205.0,494.7 L206.0,494.8 L207.0,494.9 L208.0,494.9 L209.0,495.0 L210.0,495.1 L211.0,495.1 L212.0,495.2 L213.0,495.2 L214.0,495.3 L215.0,495.3 L216.0,495.4 L217.0,495.4 L218.0,495.4 L219.0,495.4 L220.0,495.4 L221.0,495.4 L222.0,495.4 L223.0,495.4 L224.0,495.4 L225.0,495.4 L226.0,495.3 L227.0,495.3 L228.0,495.3 L229.0,495.2 L230.0,495.2 L231.0,495.1 L232.0,495.1 L233.0,495.0 L234.0,494.9 L235.0,494.9 L236.0,494.8 L237.0,494.7 L238.0,494.6 L239.0,494.5 L240.0,494.4 L241.0,494.3 L242.0,494.2 L243.0,494.1 L244.0,493.9 L245.0,493.8 L246.0,493.7 L247.0,493.5 L248.0,493.4 L249.0,493.3 L250.0,493.1 L251.0,492.9 L252.0,492.8 L253.0,492.6 L254.0,492.4 L255.0,492.3 L256.0,492.1 L257.0,491.9 L258.0,491.7 L259.0,491.5 L260.0,491.3 L261.0,491.1 L262.0,490.9 L263.0,490.6 L264.0,490.4 L265.0,490.2 L266.0,489.9 L267.0,489.7 L268.0,489.4 L269.0,489.1 L270.0,488.8 L271.0,488.5 L272.0,488.2 L273.0,487.8 L274.0,487.4 L275.0,487.0 L276.0,486.6 L277.0,486.2 L278.0,485.7 L279.0,485.2 L280.0,484.6 L281.0,484.1 L282.0,483.5 L283.0,482.9 L284.0,482.2 L285.0,481.5 L286.0,480.7 L287.0,480.0 L288.0,479.1 L289.0,478.3 L290.0,477.4 L291.0,476.4 L292.0,475.4 L293.0,474.4 L294.0,473.3 L295.0,472.1 L296.0,470.9 L297.0,469.6 L298.0,468.3 L299.0,466.8 L300.0,465.4 L301.0,463.8 L302.0,462.1 L303.0,460.4 L304.0,458.6 L305.0,456.7 L306.0,454.7 L307.0,452.6 L308.0,450.4 L309.0,448.1 L310.0,445.7 L311.0,443.2 L312.0,440.6 L313.0,437.8 L314.0,435.0 L315.0,432.0 L316.0,428.9 L317.0,425.7 L318.0,422.3 L319.0,418.9 L320.0,415.3 L321.0,411.6 L322.0,407.8 L323.0,403.9 L324.0,399.9 L325.0,395.8 L326.0,391.6 L327.0,387.4 L328.0,383.1 L329.0,378.7 L330.0,374.2 L331.0,369.7 L332.0,365.1 L333.0,360.5 L334.0,355.9 L335.0,351.2 L336.0,346.5 L337.0,341.8 L338.0,337.1 L339.0,332.4 L340.0,327.7 L341.0,323.1 L342.0,318.5 L343.0,314.0 L344.0,309.5 L345.0,305.1 L346.0,300.8 L347.0,296.6 L348.0,292.5 L349.0,288.5 L350.0,284.7 L351.0,280.9 L352.0,277.3 L353.0,273.9 L354.0,270.6 L355.0,267.5 L356.0,264.5 L357.0,261.7 L358.0,259.1 L359.0,256.7 L360.0,254.5 L361.0,252.4 L362.0,250.6 L363.0,249.0 L364.0,247.6 L365.0,246.5 L366.0,245.5 L367.0,244.8 L368.0,244.3 L369.0,244.0 L370.0,243.9 L371.0,244.1 L372.0,244.4 L373.0,244.9 L374.0,245.7 L375.0,246.6 L376.0,247.7 L377.0,249.1 L378.0,250.6 L379.0,252.3 L380.0,254.1 L381.0,256.2 L382.0,258.4 L383.0,260.8 L384.0,263.4 L385.0,266.2 L386.0,269.1 L387.0,272.2 L388.0,275.4 L389.0,278.8 L390.0,282.4 L391.0,286.1 L392.0,290.0 L393.0,294.0 L394.0,298.1 L395.0,302.4 L396.0,306.8 L397.0,311.4 L398.0,316.0 L399.0,320.8 L400.0,325.6 L401.0,330.6 L402.0,335.6 L403.0,340.7 L404.0,345.8 L405.0,351.0 L406.0,356.3 L407.0,361.5 L408.0,366.8 L409.0,372.1 L410.0,377.5 L411.0,382.8 L412.0,388.1 L413.0,393.4 L414.0,398.6 L415.0,403.8 L416.0,409.0 L417.0,414.2 L418.0,419.3 L419.0,424.3 L420.0,429.2 L421.0,434.1 L422.0,438.9 L423.0,443.6 L424.0,448.3 L425.0,452.8 L426.0,457.2 L427.0,461.6 L428.0,465.8 L429.0,469.9 L430.0,473.9 L431.0,477.8 L432.0,481.5 L433.0,485.2 L434.0,488.7 L435.0,492.1 L436.0,495.4 L437.0,498.6 L438.0,501.7 L439.0,504.6 L440.0,507.5 L441.0,510.2 L442.0,512.8 L443.0,515.3 L444.0,517.6 L445.0,519.9 L446.0,522.1 L447.0,524.1 L448.0,526.0 L449.0,527.8 L450.0,529.5 L451.0,531.0 L452.0,532.5 L453.0,533.8 L454.0,535.1 L455.0,536.2 L456.0,537.2 L457.0,538.2 L458.0,539.0 L459.0,539.8 L460.0,540.4 L461.0,541.0 L462.0,541.5 L463.0,542.0 L464.0,542.3 L465.0,542.6 L466.0,542.9 L467.0,543.0 L468.0,543.1 L469.0,543.2 L470.0,543.2 L471.0,543.2 L472.0,543.1 L473.0,543.0 L474.0,542.8 L475.0,542.6 L476.0,542.4 L477.0,542.1 L478.0,541.8 L479.0,541.6 L480.0,541.2 L481.0,540.9 L482.0,540.6 L483.0,540.2 L484.0,539.9 L485.0,539.6 L486.0,539.2 L487.0,538.9 L488.0,538.5 L489.0,538.1 L490.0,537.8 L491.0,537.4 L492.0,537.0 L493.0,536.7 L494.0,536.3 L495.0,535.9 L496.0,535.5 L497.0,535.1 L498.0,534.7 L499.0,534.3 L500.0,533.9 L501.0,533.5 L502.0,533.1 L503.0,532.7 L504.0,532.2 L505.0,531.8 L506.0,531.4 L507.0,530.9 L508.0,530.5 L509.0,530.1 L510.0,529.6 L511.0,529.2 L512.0,528.7 L513.0,528.2 L514.0,527.8 L515.0,527.3 L516.0,526.8 L517.0,526.4 L518.0,525.9 L519.0,525.4 L520.0,524.9 L521.0,524.4 L522.0,523.9 L523.0,523.4 L524.0,522.9 L525.0,522.4 L526.0,521.8 L527.0,521.3 L528.0,520.8 L529.0,520.3 L530.0,519.7 L531.0,519.2 L532.0,518.6 L533.0,518.1 L534.0,517.5 L535.0,517.0 L536.0,516.4 L537.0,515.8 L538.0,515.3 L539.0,514.7 L540.0,514.1 L541.0,513.5 L542.0,512.9 L543.0,512.3 L544.0,511.7 L545.0,511.1 L546.0,510.5 L547.0,509.9 L548.0,509.3 L549.0,508.6 L550.0,508.0 L551.0,507.4 L552.0,506.7 L553.0,506.1 L554.0,505.4 L555.0,504.8 L556.0,504.1 L557.0,503.5 L558.0,502.8 L559.0,502.2 L560.0,501.5 L561.0,500.8 L562.0,500.2 L563.0,499.5 L564.0,498.9 L565.0,498.2 L566.0,497.6 L567.0,496.9 L568.0,496.3 L569.0,495.6 L570.0,495.0 L571.0,494.4 L572.0,493.7 L573.0,493.1 L574.0,492.5 L575.0,491.9 L576.0,491.3 L577.0,490.7 L578.0,490.1 L579.0,489.5 L580.0,488.9 L581.0,488.3 L582.0,487.8 L583.0,487.2 L584.0,486.7 L585.0,486.2 L586.0,485.7 L587.0,485.2 L588.0,484.7 L589.0,484.2 L590.0,483.7 L591.0,483.3 L592.0,482.8 L593.0,482.4 L594.0,482.0 L595.0,481.6 L596.0,481.2 L597.0,480.8 L598.0,480.4 L599.0,480.1 L600.0,479.8 L601.0,479.4 L602.0,479.1 L603.0,478.8 L604.0,478.5 L605.0,478.3 L606.0,478.0 L607.0,477.8 L608.0,477.5 L609.0,477.3 L610.0,477.1 L611.0,476.9 L612.0,476.7 L613.0,476.5 L614.0,476.3 L615.0,476.2 L616.0,476.0 L617.0,475.9 L618.0,475.7 L619.0,475.6 L620.0,475.5 L621.0,475.4 L622.0,475.3 L623.0,475.2 L624.0,475.1 L625.0,475.1 L626.0,475.0 L627.0,475.0 L628.0,474.9 L629.0,474.9 L630.0,474.8 L631.0,474.8 L632.0,474.8 L633.0,474.8 L634.0,474.8 L635.0,474.8 L636.0,474.8 L637.0,474.8 L638.0,474.9 L639.0,474.9 L640.0,474.9 L641.0,475.0 L642.0,475.0 L643.0,475.1 L644.0,475.1 L645.0,475.2 L646.0,475.2 L647.0,475.3 L648.0,475.4 L649.0,475.5 L650.0,475.5 L651.0,475.6 L652.0,475.7 L653.0,475.8 L654.0,475.9 L655.0,476.0 L656.0,476.1 L657.0,476.2 L658.0,476.3 L659.0,476.4 L660.0,476.5 L661.0,476.6 L662.0,476.7 L663.0,476.8 L664.0,477.0 L665.0,477.1 L666.0,477.2 L667.0,477.3 L668.0,477.4 L669.0,477.6 L670.0,477.7 L671.0,477.8 L672.0,477.9 L673.0,478.0 L674.0,478.1 L675.0,478.3 L676.0,478.4 L677.0,478.5 L678.0,478.6 L679.0,478.7 L680.0,478.8 L681.0,478.9 L682.0,479.1 L683.0,479.2 L684.0,479.3 L685.0,479.4 L686.0,479.5 L687.0,479.5 L688.0,479.6 L689.0,479.7 L690.0,479.8 L691.0,479.9 L692.0,480.0 L693.0,480.0 L694.0,480.1 L695.0,480.2 L696.0,480.2 L697.0,480.3 L698.0,480.3 L699.0,480.4 L700.0,480.4 L701.0,480.5 L702.0,480.5 L703.0,480.5 L704.0,480.5 L705.0,480.5 L706.0,480.5 L707.0,480.6 L708.0,480.5 L709.0,480.5 L710.0,480.5 L711.0,480.5 L712.0,480.5 L713.0,480.4 L714.0,480.4 L715.0,480.4 L716.0,480.3 L717.0,480.3 L718.0,480.2 L719.0,480.1 L720.0,480.1 L721.0,480.0 L722.0,479.9 L723.0,479.8 L724.0,479.7 L725.0,479.6 L726.0,479.5 L727.0,479.4 L728.0,479.3 L729.0,479.1 L730.0,479.0 L731.0,478.9 L732.0,478.7 L733.0,478.6 L734.0,478.4 L735.0,478.2 L736.0,478.1 L737.0,477.9 L738.0,477.7 L739.0,477.5 L740.0,477.3 L741.0,477.1 L742.0,476.9 L743.0,476.7 L744.0,476.5 L745.0,476.2 L746.0,476.0 L747.0,475.7 L748.0,475.5 L749.0,475.2 L750.0,475.0 L751.0,474.7 L752.0,474.4 L753.0,474.1 L754.0,473.8 L755.0,473.5 L756.0,473.2 L757.0,472.9 L758.0,472.5 L759.0,472.2 L760.0,471.9 L761.0,471.5 L762.0,471.2 L763.0,470.8 L764.0,470.4 L765.0,470.1 L766.0,469.7 L767.0,469.3 L768.0,468.9 L769.0,468.6 L770.0,468.2 L771.0,467.8 L772.0,467.5 L773.0,467.1 L774.0,466.8 L775.0,466.4 L776.0,466.1 L777.0,465.7 L778.0,465.4 L779.0,465.1 L780.0,464.8 L781.0,464.5 L782.0,464.3 L783.0,464.0 L784.0,463.8 L785.0,463.6 L786.0,463.4 L787.0,463.2 L788.0,463.0 L789.0,462.9 L790.0,462.8 L791.0,462.7 L792.0,462.6 L793.0,462.5 L794.0,462.5 L795.0,462.5 L796.0,462.5 L797.0,462.5 L798.0,462.6 L799.0,462.6 L800.0,462.7 L801.0,462.8 L802.0,462.9 L803.0,463.0 L804.0,463.1 L805.0,463.2 L806.0,463.3 L807.0,463.5 L808.0,463.6 L809.0,463.8 L810.0,463.9 L811.0,464.1 L812.0,464.3 L813.0,464.4 L814.0,464.6 L815.0,464.8 L816.0,464.9 L817.0,465.1 L818.0,465.3 L819.0,465.5 L820.0,465.6 L821.0,465.8 L822.0,466.0 L823.0,466.1 L824.0,466.3 L825.0,466.4 L826.0,466.6 L827.0,466.7 L828.0,466.8 L829.0,466.9 L830.0,467.1 L831.0,467.2 L832.0,467.3 L833.0,467.3 L834.0,467.4 L835.0,467.5 L836.0,467.5 L837.0,467.6 L838.0,467.6 L839.0,467.6 L840.0,467.6 L841.0,467.6 L842.0,467.6 L843.0,467.5 L844.0,467.5 L845.0,467.4 L846.0,467.3 L847.0,467.2 L848.0,467.0 L849.0,466.9 L850.0,466.7 L851.0,466.5 L852.0,466.3 L853.0,466.1 L854.0,465.8 L855.0,465.5 L856.0,465.2 L857.0,464.9 L858.0,464.6 L859.0,464.3 L860.0,464.0 L861.0,463.6 L862.0,463.2 L863.0,462.8 L864.0,462.5 L865.0,462.1 L866.0,461.7 L867.0,461.2 L868.0,460.8 L869.0,460.4 L870.0,460.0 L871.0,459.5 L872.0,459.1 L873.0,458.6 L874.0,458.2 L875.0,457.7 L876.0,457.3 L877.0,456.8 L878.0,456.4 L879.0,455.9 L880.0,455.5 L881.0,455.0 L882.0,454.6 L883.0,454.2 L884.0,453.7 L885.0,453.3 L886.0,452.9 L887.0,452.5 L888.0,452.1 L889.0,451.7 L890.0,451.3 L891.0,451.0 L892.0,450.6 L893.0,450.2 L894.0,449.9 L895.0,449.6 L896.0,449.3 L897.0,449.0 L898.0,448.7 L899.0,448.4 L900.0,448.1 L901.0,447.9 L902.0,447.6 L903.0,447.4 L904.0,447.2 L905.0,447.0 L906.0,446.8 L907.0,446.7 L908.0,446.5 L909.0,446.4 L910.0,446.3 L911.0,446.1 L912.0,446.1 L913.0,446.0 L914.0,445.9 L915.0,445.9 L916.0,445.9 L917.0,445.9 L918.0,445.9 L919.0,445.9 L920.0,445.9 L921.0,446.0 L922.0,446.1 L923.0,446.2 L924.0,446.3 L925.0,446.5 L926.0,446.6 L927.0,446.8 L928.0,447.0 L929.0,447.2 L930.0,447.5 L931.0,447.8 L932.0,448.0 L933.0,448.3 L934.0,448.7 L935.0,449.0 L936.0,449.4 L937.0,449.8 L938.0,450.2 L939.0,450.6 L940.0,451.0 L941.0,451.4 L942.0,451.9 L943.0,452.4 L944.0,452.9 L945.0,453.4 L946.0,453.9 L947.0,454.4 L948.0,455.0 L949.0,455.6 L950.0,456.1 L951.0,456.7 L952.0,457.3 L953.0,457.9 L954.0,458.6 L955.0,459.2 L956.0,459.8 L957.0,460.5 L958.0,461.2 L959.0,461.8 L960.0,462.5 L961.0,463.2 L962.0,463.9 L963.0,464.7 L964.0,465.4 L965.0,466.2 L966.0,467.1 L967.0,467.9 L968.0,468.8 L969.0,469.8 L970.0,470.8 L971.0,471.8 L972.0,472.9 L973.0,474.1 L974.0,475.3 L975.0,476.6 L976.0,478.0 L977.0,479.4 L978.0,480.9 L979.0,482.5 L980.0,484.2 L981.0,485.9 L982.0,487.8 L983.0,489.7 L984.0,491.7 L985.0,493.7 L986.0,495.9 L987.0,498.2 L988.0,500.5 L989.0,503.0 L990.0,505.5 L991.0,508.2 L992.0,510.9 L993.0,513.8 L994.0,516.7 L995.0,519.7 L996.0,522.8 L997.0,526.0 L998.0,529.3 L999.0,532.6 L1000.0,536.1 L1001.0,539.6 L1002.0,543.1 L1003.0,546.7 L1004.0,550.4 L1005.0,554.2 L1006.0,558.0 L1007.0,561.8 L1008.0,565.7 L1009.0,569.7 L1010.0,573.7 L1011.0,577.7 L1012.0,581.8 L1013.0,585.9 L1014.0,590.1 L1015.0,594.2 L1016.0,598.4 L1017.0,602.7 L1018.0,606.9 L1019.0,611.2 L1020.0,615.5 L1021.0,619.8 L1022.0,624.1 L1023.0,628.4 L1024.0,632.7 L1025.0,637.0 L1026.0,641.3 L1027.0,645.6 L1028.0,649.9 L1029.0,654.2 L1030.0,658.5 L1031.0,662.7 L1032.0,666.9 L1033.0,671.0 L1034.0,675.2 L1035.0,679.3 L1036.0,683.3 L1037.0,687.3 L1038.0,691.2 L1039.0,695.1 L1040.0,698.9 L1041.0,702.6 L1042.0,706.2 L1043.0,709.8 L1044.0,713.3 L1045.0,716.7 L1046.0,720.0 L1047.0,723.2 L1048.0,726.3 L1049.0,729.3 L1050.0,732.2 L1051.0,735.0 L1052.0,737.6 L1053.0,740.2 L1054.0,742.6 L1055.0,744.8 L1056.0,747.0 L1057.0,748.9 L1058.0,750.8 L1059.0,752.5 L1060.0,754.0 L1061.0,755.4 L1062.0,756.6 L1063.0,757.6 L1064.0,758.5 L1065.0,759.2 L1066.0,759.7 L1067.0,760.0 L1068.0,760.1 L1069.0,760.1 L1070.0,759.8 L1071.0,759.3 L1072.0,758.6 L1073.0,757.7 L1074.0,756.6 L1075.0,755.3 L1076.0,753.7 L1077.0,752.0 L1078.0,750.0 L1079.0,747.9 L1080.0,745.5 L1081.0,743.0 L1082.0,740.3 L1083.0,737.5 L1084.0,734.5 L1085.0,731.3 L1086.0,727.9 L1087.0,724.5 L1088.0,720.9 L1089.0,717.1 L1090.0,713.2 L1091.0,709.3 L1092.0,705.2 L1093.0,700.9 L1094.0,696.6 L1095.0,692.2 L1096.0,687.8 L1097.0,683.2 L1098.0,678.6 L1099.0,673.9 L1100.0,669.2 L1101.0,664.4 L1102.0,659.6 L1103.0,654.8 L1104.0,650.0 L1105.0,645.2 L1106.0,640.3 L1107.0,635.5 L1108.0,630.7 L1109.0,626.0 L1110.0,621.2 L1111.0,616.5 L1112.0,611.9 L1113.0,607.3 L1114.0,602.8 L1115.0,598.3 L1116.0,593.9 L1117.0,589.6 L1118.0,585.4 L1119.0,581.3 L1120.0,577.2 L1121.0,573.2 L1122.0,569.4 L1123.0,565.6 L1124.0,561.9 L1125.0,558.3 L1126.0,554.8 L1127.0,551.4 L1128.0,548.1 L1129.0,544.9 L1130.0,541.8 L1131.0,538.9 L1132.0,536.0 L1133.0,533.3 L1134.0,530.6 L1135.0,528.1 L1136.0,525.7 L1137.0,523.4 L1138.0,521.3 L1139.0,519.2 L1140.0,517.3 L1141.0,515.6 L1142.0,513.9 L1143.0,512.4 L1144.0,510.9 L1145.0,509.6 L1146.0,508.4 L1147.0,507.2 L1148.0,506.2 L1149.0,505.2 L1150.0,504.4 L1151.0,503.6 L1152.0,502.8 L1153.0,502.2 L1154.0,501.6 L1155.0,501.0 L1156.0,500.5 L1157.0,500.1 L1158.0,499.6 L1159.0,499.3 L1160.0,498.9 L1161.0,498.6 L1162.0,498.3 L1163.0,498.0 L1164.0,497.7 L1165.0,497.5 L1166.0,497.2 L1167.0,497.0 L1168.0,496.8 L1169.0,496.5 L1170.0,496.3 L1171.0,496.1 L1172.0,496.0 L1173.0,495.8 L1174.0,495.6 L1175.0,495.5 L1176.0,495.3 L1177.0,495.2 L1178.0,495.0 L1179.0,494.9 L1180.0,494.8 L1181.0,494.7 L1182.0,494.6 L1183.0,494.5 L1184.0,494.5 L1185.0,494.4 L1186.0,494.3 L1187.0,494.3 L1188.0,494.2 L1189.0,494.2 L1190.0,494.1 L1191.0,494.1 L1192.0,494.1 L1193.0,494.1 L1194.0,494.1 L1195.0,494.1 L1196.0,494.1 L1197.0,494.1 L1198.0,494.1 L1199.0,494.1 L1200.0,494.1 L1201.0,494.2 L1202.0,494.2 L1203.0,494.2 L1204.0,494.3 L1205.0,494.3 L1206.0,494.4 L1207.0,494.4 L1208.0,494.5 L1209.0,494.5 L1210.0,494.6 L1211.0,494.6 L1212.0,494.7 L1213.0,494.8 L1214.0,494.8 L1215.0,494.9 L1216.0,495.0 L1217.0,495.1 L1218.0,495.1 L1219.0,495.2 L1220.0,495.3 L1221.0,495.4 L1222.0,495.5 L1223.0,495.5 L1224.0,495.6 L1225.0,495.7 L1226.0,495.8 L1226.3,495.8" fill="none" stroke="#00c8c8" stroke-width="5.0" stroke-linejoin="round" stroke-linecap="round"/>
<line x1="364.3" y1="75.0" x2="364.3" y2="914.5" stroke="#000" stroke-width="3.7" stroke-dasharray="6.7 6.13" stroke-dashoffset="-4.75"/>
<line x1="1067.4" y1="75.0" x2="1067.4" y2="914.5" stroke="#000" stroke-width="3.7" stroke-dasharray="6.7 6.13" stroke-dashoffset="-4.75"/>
<line x1="416.8" y1="119.3" x2="533.6" y2="119.3" stroke="#48484b" stroke-width="5.5" stroke-linecap="round"/>
<text x="545.5" y="136.9" font-size="51.0" class="t">30 s</text>
<line x1="696.0" y1="119.3" x2="811.5" y2="119.3" stroke="#f3333a" stroke-width="5.5" stroke-linecap="round"/>
<text x="824.1" y="136.9" font-size="51.0" class="t">300 s</text>
<line x1="416.8" y1="182.9" x2="533.6" y2="182.9" stroke="#1660e0" stroke-width="5.5" stroke-linecap="round"/>
<text x="545.5" y="200.4" font-size="51.0" class="t">600 s</text>
<line x1="696.0" y1="182.9" x2="811.5" y2="182.9" stroke="#29a360" stroke-width="5.5" stroke-linecap="round"/>
<text x="824.1" y="200.4" font-size="51.0" class="t">900 s</text>
<line x1="416.8" y1="246.6" x2="533.6" y2="246.6" stroke="#b265e2" stroke-width="5.5" stroke-linecap="round"/>
<text x="547.0" y="263.9" font-size="51.0" class="t">1200 s</text>
<line x1="696.0" y1="246.6" x2="811.5" y2="246.6" stroke="#cc980e" stroke-width="5.5" stroke-linecap="round"/>
<text x="825.6" y="263.9" font-size="51.0" class="t">1500 s</text>
<line x1="416.8" y1="310.2" x2="533.6" y2="310.2" stroke="#00c8c8" stroke-width="5.5" stroke-linecap="round"/>
<text x="547.0" y="327.4" font-size="51.0" class="t">1800 s</text>
<text x="187.1" y="93.3" font-size="55.5" class="t" text-anchor="end">100</text>
<text x="185.0" y="304.3" font-size="55.5" class="t" text-anchor="end">50</text>
<text x="183.9" y="513.2" font-size="55.5" class="t" text-anchor="end">0</text>
<text x="187.4" y="723.0" font-size="55.5" class="t" text-anchor="end">−50</text>
<text x="189.4" y="932.7" font-size="55.5" class="t" text-anchor="end">−100</text>
<text x="204.8" y="975.3" font-size="55.5" class="t" text-anchor="middle">0</text>
<text x="465.2" y="975.3" font-size="55.5" class="t" text-anchor="middle">100</text>
<text x="725.7" y="975.3" font-size="55.5" class="t" text-anchor="middle">200</text>
<text x="986.2" y="975.3" font-size="55.5" class="t" text-anchor="middle">300</text>
<text x="1246.6" y="975.3" font-size="55.5" class="t" text-anchor="middle">400</text>
<text x="725.8" y="1038.8" font-size="58.5" class="t" text-anchor="middle">Thickness/ µm</text>
<text transform="translate(69.5,501.8) rotate(-90)" font-size="59.9" class="t" text-anchor="middle">Space charge density/ (C/m<tspan font-size="38.5" dy="-25" dx="-8">3</tspan><tspan dy="25" dx="8">)</tspan></text>
<text x="375.2" y="62.3" font-size="59.3" class="t" text-anchor="middle">anode</text>
<text x="1076.2" y="62.3" font-size="59.3" class="t" text-anchor="middle">cathode</text>
<text x="649.3" y="1143.8" font-size="88" font-weight="bold" class="t" text-anchor="middle">a</text>
<text transform="translate(614.2,1141.5) scale(0.80,0.97)" font-size="88" class="t" text-anchor="middle">(</text>
<text transform="translate(682.8,1141.5) scale(0.80,0.97)" font-size="88" class="t" text-anchor="middle">)</text>
</g>
</svg>
</body></html>
